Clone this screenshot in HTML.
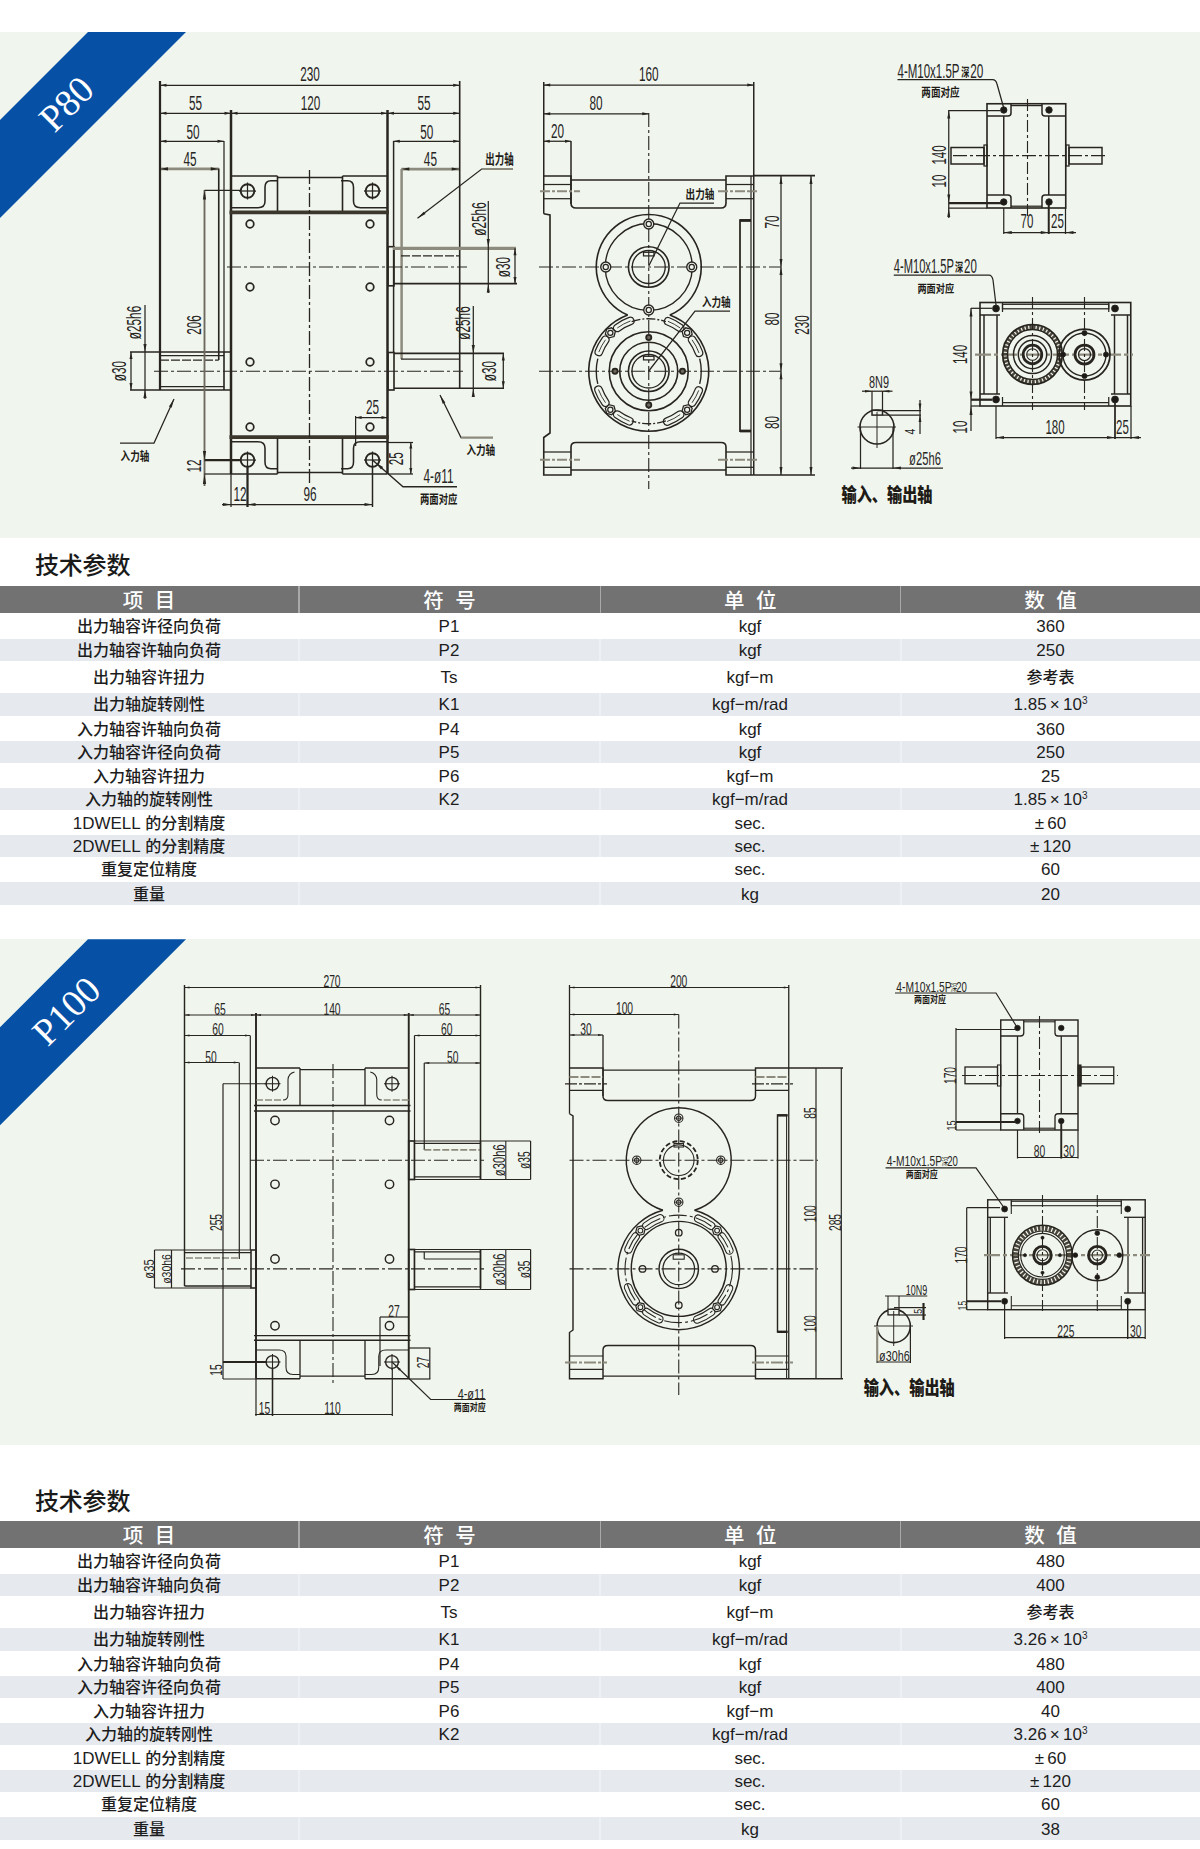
<!DOCTYPE html>
<html lang="zh-CN"><head><meta charset="utf-8"><title>P80 / P100 技术参数</title>
<style>
html,body{margin:0;padding:0;background:#fff}
body{width:1200px;height:1849px;position:relative;overflow:hidden;font-family:"Liberation Sans","Noto Sans CJK SC",sans-serif;color:#1d1d1d}
.panel{position:absolute;left:0;width:1200px;background:#f0f6ee}
svg{position:absolute;left:0;top:0}
.ttl{position:absolute;left:35px;font-size:24px;line-height:28px;font-weight:500;color:#1a1a1a;letter-spacing:-0.2px}
.hdr{position:absolute;left:0;width:1200px;background:#a9a9a9}
.hdr span{position:absolute;top:0;height:100%;background:#727272;color:#fff;font-size:20.5px;line-height:30.5px;text-align:center;font-weight:500;word-spacing:6px}
.row{position:absolute;left:0;width:1200px;font-size:16px;white-space:nowrap}
.row.sh{background:linear-gradient(#edf0f4,#edf0f4) 297.5px 0/2px 100% no-repeat,linear-gradient(#edf0f4,#edf0f4) 599px 0/2px 100% no-repeat,linear-gradient(#edf0f4,#edf0f4) 899.5px 0/2px 100% no-repeat,#e6eaef}
.row span{position:absolute;top:1px;text-align:center;font-weight:500}
.row .c1{left:0;width:298px}
.row .c2{left:299px;width:300px;font-size:17px;font-weight:400}
.row .c3{left:600px;width:300px;font-size:17px;font-weight:400}
.row .c4{left:901px;width:299px;font-size:17px;font-weight:400}
.row .c4{word-spacing:-1.5px}
.row b{font-size:16px;font-weight:500}
.row i{font-style:normal;font-size:17px;font-weight:400}
.row sup{font-size:10px;vertical-align:6px;line-height:0}
</style></head><body>
<div class="panel" style="top:32px;height:506px"></div>
<div class="panel" style="top:939px;height:506px"></div>
<svg width="1200" height="1849" viewBox="0 0 1200 1849">
<polygon points="88,32 186,32 0,218 0,120" fill="#0650a6"/>
<text transform="translate(66.5,104) rotate(-45)" text-anchor="middle" font-family="&quot;Liberation Serif&quot;,serif" font-size="38" fill="#fff" y="12.5">P80</text>
<polygon points="88,939.3 186,939.3 0,1125.3 0,1027.3" fill="#0650a6"/>
<text transform="translate(66.5,1011) rotate(-45)" text-anchor="middle" font-family="&quot;Liberation Serif&quot;,serif" font-size="38" fill="#fff" y="12.5">P100</text>
<g>
<line x1="160.00" y1="85.30" x2="459.70" y2="85.30" stroke="#28251f" stroke-width="1.25"/>
<polygon points="160.00,85.30 166.50,83.80 166.50,86.80" fill="#28251f"/>
<polygon points="459.70,85.30 453.20,86.80 453.20,83.80" fill="#28251f"/>
<line x1="160.00" y1="113.30" x2="231.00" y2="113.30" stroke="#28251f" stroke-width="1.25"/>
<polygon points="160.00,113.30 166.50,111.80 166.50,114.80" fill="#28251f"/>
<polygon points="231.00,113.30 224.50,114.80 224.50,111.80" fill="#28251f"/>
<line x1="231.00" y1="113.30" x2="387.50" y2="113.30" stroke="#28251f" stroke-width="1.25"/>
<polygon points="231.00,113.30 237.50,111.80 237.50,114.80" fill="#28251f"/>
<polygon points="387.50,113.30 381.00,114.80 381.00,111.80" fill="#28251f"/>
<line x1="387.50" y1="113.30" x2="459.70" y2="113.30" stroke="#28251f" stroke-width="1.25"/>
<polygon points="387.50,113.30 394.00,111.80 394.00,114.80" fill="#28251f"/>
<polygon points="459.70,113.30 453.20,114.80 453.20,111.80" fill="#28251f"/>
<line x1="160.00" y1="141.30" x2="224.00" y2="141.30" stroke="#28251f" stroke-width="1.25"/>
<polygon points="160.00,141.30 166.50,139.80 166.50,142.80" fill="#28251f"/>
<polygon points="224.00,141.30 217.50,142.80 217.50,139.80" fill="#28251f"/>
<line x1="160.00" y1="168.90" x2="218.75" y2="168.90" stroke="#8d8a7e" stroke-width="2.75"/>
<polygon points="160.00,168.90 168.00,167.30 168.00,170.50" fill="#28251f"/>
<polygon points="218.75,168.90 210.75,170.50 210.75,167.30" fill="#28251f"/>
<line x1="393.30" y1="141.30" x2="459.70" y2="141.30" stroke="#28251f" stroke-width="1.25"/>
<polygon points="393.30,141.30 399.80,139.80 399.80,142.80" fill="#28251f"/>
<polygon points="459.70,141.30 453.20,142.80 453.20,139.80" fill="#28251f"/>
<line x1="401.30" y1="169.00" x2="459.70" y2="169.00" stroke="#8d8a7e" stroke-width="2.75"/>
<polygon points="401.30,169.00 409.30,167.40 409.30,170.60" fill="#28251f"/>
<polygon points="459.70,169.00 451.70,170.60 451.70,167.40" fill="#28251f"/>
<text transform="translate(310.00,81.00) scale(0.575,1)" font-family="&quot;Liberation Sans&quot;,sans-serif" font-size="20.5" font-weight="normal" fill="#28251f" text-anchor="middle">230</text>
<text transform="translate(195.60,110.00) scale(0.575,1)" font-family="&quot;Liberation Sans&quot;,sans-serif" font-size="20.5" font-weight="normal" fill="#28251f" text-anchor="middle">55</text>
<text transform="translate(310.60,110.00) scale(0.575,1)" font-family="&quot;Liberation Sans&quot;,sans-serif" font-size="20.5" font-weight="normal" fill="#28251f" text-anchor="middle">120</text>
<text transform="translate(424.00,110.00) scale(0.575,1)" font-family="&quot;Liberation Sans&quot;,sans-serif" font-size="20.5" font-weight="normal" fill="#28251f" text-anchor="middle">55</text>
<text transform="translate(193.00,138.50) scale(0.575,1)" font-family="&quot;Liberation Sans&quot;,sans-serif" font-size="20.5" font-weight="normal" fill="#28251f" text-anchor="middle">50</text>
<text transform="translate(426.70,138.50) scale(0.575,1)" font-family="&quot;Liberation Sans&quot;,sans-serif" font-size="20.5" font-weight="normal" fill="#28251f" text-anchor="middle">50</text>
<text transform="translate(190.00,166.00) scale(0.575,1)" font-family="&quot;Liberation Sans&quot;,sans-serif" font-size="20.5" font-weight="normal" fill="#28251f" text-anchor="middle">45</text>
<text transform="translate(430.40,166.00) scale(0.575,1)" font-family="&quot;Liberation Sans&quot;,sans-serif" font-size="20.5" font-weight="normal" fill="#28251f" text-anchor="middle">45</text>
<line x1="160.00" y1="81.00" x2="160.00" y2="390.00" stroke="#28251f" stroke-width="2.25"/>
<line x1="459.70" y1="81.00" x2="459.70" y2="388.00" stroke="#28251f" stroke-width="1.62"/>
<line x1="224.00" y1="141.00" x2="224.00" y2="352.00" stroke="#28251f" stroke-width="1.25"/>
<line x1="218.75" y1="168.50" x2="218.75" y2="360.00" stroke="#28251f" stroke-width="1.62"/>
<line x1="393.60" y1="141.00" x2="393.60" y2="352.50" stroke="#28251f" stroke-width="1.50"/>
<line x1="401.60" y1="169.00" x2="401.60" y2="359.00" stroke="#8d8a7e" stroke-width="2.50"/>
<line x1="231.00" y1="110.00" x2="231.00" y2="474.00" stroke="#28251f" stroke-width="2.50"/>
<line x1="387.50" y1="110.00" x2="387.50" y2="474.00" stroke="#28251f" stroke-width="2.50"/>
<line x1="231.00" y1="176.00" x2="277.50" y2="176.00" stroke="#28251f" stroke-width="1.62"/>
<line x1="342.50" y1="176.00" x2="387.50" y2="176.00" stroke="#28251f" stroke-width="1.62"/>
<line x1="277.50" y1="177.60" x2="342.50" y2="177.60" stroke="#28251f" stroke-width="1.50"/>
<line x1="277.50" y1="176.00" x2="277.50" y2="212.00" stroke="#28251f" stroke-width="1.62"/>
<line x1="342.50" y1="176.00" x2="342.50" y2="212.00" stroke="#28251f" stroke-width="1.62"/>
<line x1="229.50" y1="212.30" x2="389.00" y2="212.30" stroke="#3b372d" stroke-width="3.75"/>
<line x1="229.50" y1="437.20" x2="389.00" y2="437.20" stroke="#3b372d" stroke-width="3.75"/>
<line x1="231.00" y1="474.00" x2="277.50" y2="474.00" stroke="#28251f" stroke-width="1.62"/>
<line x1="342.50" y1="474.00" x2="387.50" y2="474.00" stroke="#28251f" stroke-width="1.62"/>
<line x1="277.50" y1="472.40" x2="342.50" y2="472.40" stroke="#28251f" stroke-width="1.50"/>
<line x1="277.50" y1="438.00" x2="277.50" y2="474.00" stroke="#28251f" stroke-width="1.62"/>
<line x1="342.50" y1="438.00" x2="342.50" y2="474.00" stroke="#28251f" stroke-width="1.62"/>
<path d="M231.00,207.80 L258.00,207.80 Q265.00,207.80 265.00,201.30 L265.00,187.30 Q265.00,180.80 271.00,180.80 L277.50,180.80" stroke="#28251f" stroke-width="1.56" fill="none"/>
<path d="M387.50,207.80 L360.50,207.80 Q353.50,207.80 353.50,201.30 L353.50,187.30 Q353.50,180.80 347.50,180.80 L341.00,180.80" stroke="#28251f" stroke-width="1.56" fill="none"/>
<path d="M231.00,441.80 L258.00,441.80 Q265.00,441.80 265.00,448.30 L265.00,462.30 Q265.00,468.80 271.00,468.80 L277.50,468.80" stroke="#28251f" stroke-width="1.56" fill="none"/>
<path d="M387.50,441.80 L360.50,441.80 Q353.50,441.80 353.50,448.30 L353.50,462.30 Q353.50,468.80 347.50,468.80 L341.00,468.80" stroke="#28251f" stroke-width="1.56" fill="none"/>
<circle cx="247.50" cy="191.00" r="6.80" stroke="#28251f" stroke-width="1.88" fill="none"/>
<line x1="239.00" y1="191.00" x2="256.00" y2="191.00" stroke="#28251f" stroke-width="1.25"/>
<line x1="247.50" y1="182.50" x2="247.50" y2="199.50" stroke="#28251f" stroke-width="1.25"/>
<circle cx="372.50" cy="191.00" r="6.80" stroke="#28251f" stroke-width="1.88" fill="none"/>
<line x1="364.00" y1="191.00" x2="381.00" y2="191.00" stroke="#28251f" stroke-width="1.25"/>
<line x1="372.50" y1="182.50" x2="372.50" y2="199.50" stroke="#28251f" stroke-width="1.25"/>
<circle cx="247.50" cy="460.00" r="6.80" stroke="#28251f" stroke-width="1.88" fill="none"/>
<line x1="239.00" y1="460.00" x2="256.00" y2="460.00" stroke="#28251f" stroke-width="1.25"/>
<line x1="247.50" y1="451.50" x2="247.50" y2="468.50" stroke="#28251f" stroke-width="1.25"/>
<circle cx="372.50" cy="460.00" r="6.80" stroke="#28251f" stroke-width="1.88" fill="none"/>
<line x1="364.00" y1="460.00" x2="381.00" y2="460.00" stroke="#28251f" stroke-width="1.25"/>
<line x1="372.50" y1="451.50" x2="372.50" y2="468.50" stroke="#28251f" stroke-width="1.25"/>
<circle cx="250.00" cy="224.00" r="3.80" stroke="#28251f" stroke-width="1.75" fill="none"/>
<circle cx="250.00" cy="287.00" r="3.80" stroke="#28251f" stroke-width="1.75" fill="none"/>
<circle cx="250.00" cy="362.00" r="3.80" stroke="#28251f" stroke-width="1.75" fill="none"/>
<circle cx="250.00" cy="427.00" r="3.80" stroke="#28251f" stroke-width="1.75" fill="none"/>
<circle cx="370.00" cy="224.00" r="3.80" stroke="#28251f" stroke-width="1.75" fill="none"/>
<circle cx="370.00" cy="287.00" r="3.80" stroke="#28251f" stroke-width="1.75" fill="none"/>
<circle cx="370.00" cy="362.00" r="3.80" stroke="#28251f" stroke-width="1.75" fill="none"/>
<circle cx="370.00" cy="427.00" r="3.80" stroke="#28251f" stroke-width="1.75" fill="none"/>
<line x1="309.50" y1="170.00" x2="309.50" y2="483.00" stroke="#28251f" stroke-width="1.31" stroke-dasharray="14 3 3 3"/>
<line x1="227.00" y1="267.00" x2="467.00" y2="267.00" stroke="#28251f" stroke-width="1.12" stroke-dasharray="14 3 3 3"/>
<line x1="154.00" y1="371.20" x2="463.00" y2="371.20" stroke="#28251f" stroke-width="1.12" stroke-dasharray="14 3 3 3"/>
<line x1="130.00" y1="352.00" x2="231.00" y2="352.00" stroke="#28251f" stroke-width="1.50"/>
<line x1="130.00" y1="390.00" x2="231.00" y2="390.00" stroke="#28251f" stroke-width="1.50"/>
<line x1="160.00" y1="355.60" x2="224.00" y2="355.60" stroke="#28251f" stroke-width="1.25"/>
<line x1="160.00" y1="386.60" x2="224.00" y2="386.60" stroke="#28251f" stroke-width="1.25"/>
<line x1="160.00" y1="360.00" x2="218.75" y2="360.00" stroke="#28251f" stroke-width="1.25" stroke-dasharray="9 2"/>
<line x1="224.00" y1="352.00" x2="224.00" y2="390.00" stroke="#28251f" stroke-width="1.62"/>
<line x1="131.00" y1="352.00" x2="131.00" y2="390.00" stroke="#28251f" stroke-width="1.25"/>
<polygon points="131.00,352.00 132.50,359.00 129.50,359.00" fill="#28251f"/>
<polygon points="131.00,390.00 129.50,383.00 132.50,383.00" fill="#28251f"/>
<line x1="145.00" y1="305.00" x2="145.00" y2="399.00" stroke="#28251f" stroke-width="1.25"/>
<polygon points="145.00,352.00 143.40,344.00 146.60,344.00" fill="#28251f"/>
<polygon points="145.00,390.00 146.60,398.00 143.40,398.00" fill="#28251f"/>
<text transform="translate(141.00,322.50) rotate(-90) scale(0.575,1)" font-family="&quot;Liberation Sans&quot;,sans-serif" font-size="20.5" font-weight="normal" fill="#28251f" text-anchor="middle">ø25h6</text>
<text transform="translate(126.00,371.00) rotate(-90) scale(0.575,1)" font-family="&quot;Liberation Sans&quot;,sans-serif" font-size="20.5" font-weight="normal" fill="#28251f" text-anchor="middle">ø30</text>
<line x1="204.50" y1="190.00" x2="204.50" y2="486.00" stroke="#6d695e" stroke-width="1.88"/>
<polygon points="204.50,190.50 206.10,199.50 202.90,199.50" fill="#28251f"/>
<polygon points="204.50,460.00 202.90,451.00 206.10,451.00" fill="#28251f"/>
<polygon points="204.50,474.00 206.10,484.00 202.90,484.00" fill="#28251f"/>
<line x1="204.50" y1="190.30" x2="241.00" y2="190.30" stroke="#28251f" stroke-width="1.25"/>
<line x1="204.50" y1="460.00" x2="241.00" y2="460.00" stroke="#28251f" stroke-width="2.25"/>
<line x1="204.50" y1="474.00" x2="231.00" y2="474.00" stroke="#28251f" stroke-width="1.25"/>
<text transform="translate(201.00,325.00) rotate(-90) scale(0.575,1)" font-family="&quot;Liberation Sans&quot;,sans-serif" font-size="20.5" font-weight="normal" fill="#28251f" text-anchor="middle">206</text>
<text transform="translate(201.00,466.00) rotate(-90) scale(0.575,1)" font-family="&quot;Liberation Sans&quot;,sans-serif" font-size="20.5" font-weight="normal" fill="#28251f" text-anchor="middle">12</text>
<line x1="222.00" y1="504.50" x2="372.50" y2="504.50" stroke="#28251f" stroke-width="1.25"/>
<polygon points="231.00,504.50 223.00,506.00 223.00,503.00" fill="#28251f"/>
<polygon points="247.50,504.50 255.50,503.00 255.50,506.00" fill="#28251f"/>
<polygon points="372.50,504.50 364.50,506.00 364.50,503.00" fill="#28251f"/>
<line x1="231.00" y1="474.00" x2="231.00" y2="507.00" stroke="#28251f" stroke-width="1.25"/>
<line x1="247.50" y1="467.00" x2="247.50" y2="507.00" stroke="#28251f" stroke-width="2.25"/>
<line x1="372.50" y1="467.00" x2="372.50" y2="507.00" stroke="#28251f" stroke-width="1.50"/>
<text transform="translate(240.00,501.00) scale(0.575,1)" font-family="&quot;Liberation Sans&quot;,sans-serif" font-size="20.5" font-weight="normal" fill="#28251f" text-anchor="middle">12</text>
<text transform="translate(310.00,501.00) scale(0.575,1)" font-family="&quot;Liberation Sans&quot;,sans-serif" font-size="20.5" font-weight="normal" fill="#28251f" text-anchor="middle">96</text>
<line x1="355.60" y1="417.50" x2="387.50" y2="417.50" stroke="#28251f" stroke-width="1.25"/>
<polygon points="355.60,417.50 361.60,416.00 361.60,419.00" fill="#28251f"/>
<polygon points="387.50,417.50 381.50,419.00 381.50,416.00" fill="#28251f"/>
<line x1="355.60" y1="416.00" x2="355.60" y2="446.00" stroke="#28251f" stroke-width="1.25"/>
<text transform="translate(372.50,414.00) scale(0.575,1)" font-family="&quot;Liberation Sans&quot;,sans-serif" font-size="20.5" font-weight="normal" fill="#28251f" text-anchor="middle">25</text>
<line x1="388.00" y1="442.50" x2="413.00" y2="442.50" stroke="#28251f" stroke-width="1.25"/>
<line x1="388.00" y1="474.00" x2="413.00" y2="474.00" stroke="#28251f" stroke-width="1.25"/>
<line x1="410.80" y1="442.50" x2="410.80" y2="474.00" stroke="#28251f" stroke-width="1.25"/>
<polygon points="410.80,442.50 412.30,448.50 409.30,448.50" fill="#28251f"/>
<polygon points="410.80,474.00 409.30,468.00 412.30,468.00" fill="#28251f"/>
<text transform="translate(403.30,458.70) rotate(-90) scale(0.575,1)" font-family="&quot;Liberation Sans&quot;,sans-serif" font-size="20.5" font-weight="normal" fill="#28251f" text-anchor="middle">25</text>
<path d="M372.5,460 L403,486.7 L457,486.7" stroke="#28251f" stroke-width="1.38" fill="none"/>
<polygon points="376.00,463.00 383.09,467.04 380.99,469.46" fill="#28251f"/>
<text transform="translate(438.50,483.30) scale(0.575,1)" font-family="&quot;Liberation Sans&quot;,sans-serif" font-size="20.5" font-weight="normal" fill="#28251f" text-anchor="middle">4-ø11</text>
<text transform="translate(438.70,503.50) scale(0.75,1)" font-family="&quot;Liberation Sans&quot;,&quot;Noto Sans CJK SC&quot;,sans-serif" font-size="12.5" font-weight="bold" fill="#1f1c18" text-anchor="middle">两面对应</text>
<rect x="388.00" y="246.70" width="6.00" height="39.10" rx="0" stroke="#28251f" stroke-width="1.62" fill="none"/>
<line x1="393.00" y1="248.30" x2="516.00" y2="248.30" stroke="#8d8a7e" stroke-width="3.25"/>
<line x1="394.00" y1="283.60" x2="517.00" y2="283.60" stroke="#28251f" stroke-width="1.62"/>
<line x1="401.00" y1="255.80" x2="459.70" y2="255.80" stroke="#28251f" stroke-width="1.25" stroke-dasharray="9 2"/>
<line x1="488.30" y1="201.00" x2="488.30" y2="293.00" stroke="#28251f" stroke-width="1.25"/>
<polygon points="488.30,247.00 486.70,239.00 489.90,239.00" fill="#28251f"/>
<polygon points="488.30,284.50 489.90,292.50 486.70,292.50" fill="#28251f"/>
<line x1="515.00" y1="248.30" x2="515.00" y2="284.00" stroke="#28251f" stroke-width="1.25"/>
<polygon points="515.00,248.30 516.50,255.30 513.50,255.30" fill="#28251f"/>
<polygon points="515.00,284.00 513.50,277.00 516.50,277.00" fill="#28251f"/>
<text transform="translate(486.00,219.00) rotate(-90) scale(0.575,1)" font-family="&quot;Liberation Sans&quot;,sans-serif" font-size="20.5" font-weight="normal" fill="#28251f" text-anchor="middle">ø25h6</text>
<text transform="translate(509.80,267.00) rotate(-90) scale(0.575,1)" font-family="&quot;Liberation Sans&quot;,sans-serif" font-size="20.5" font-weight="normal" fill="#28251f" text-anchor="middle">ø30</text>
<rect x="388.00" y="352.50" width="6.00" height="37.50" rx="0" stroke="#28251f" stroke-width="1.62" fill="none"/>
<line x1="394.00" y1="353.40" x2="504.00" y2="353.40" stroke="#28251f" stroke-width="1.62"/>
<line x1="394.00" y1="388.20" x2="504.00" y2="388.20" stroke="#28251f" stroke-width="1.62"/>
<line x1="401.00" y1="359.20" x2="459.70" y2="359.20" stroke="#28251f" stroke-width="1.25"/>
<line x1="473.30" y1="306.00" x2="473.30" y2="397.00" stroke="#28251f" stroke-width="1.25"/>
<polygon points="473.30,353.00 471.70,345.00 474.90,345.00" fill="#28251f"/>
<polygon points="473.30,389.00 474.90,397.00 471.70,397.00" fill="#28251f"/>
<line x1="503.30" y1="353.40" x2="503.30" y2="388.20" stroke="#28251f" stroke-width="1.25"/>
<polygon points="503.30,353.40 504.80,360.40 501.80,360.40" fill="#28251f"/>
<polygon points="503.30,388.20 501.80,381.20 504.80,381.20" fill="#28251f"/>
<text transform="translate(470.00,323.00) rotate(-90) scale(0.575,1)" font-family="&quot;Liberation Sans&quot;,sans-serif" font-size="20.5" font-weight="normal" fill="#28251f" text-anchor="middle">ø25h6</text>
<text transform="translate(496.30,371.00) rotate(-90) scale(0.575,1)" font-family="&quot;Liberation Sans&quot;,sans-serif" font-size="20.5" font-weight="normal" fill="#28251f" text-anchor="middle">ø30</text>
<path d="M513,169 L481.7,169 L417.5,218.3" stroke="#28251f" stroke-width="1.25" fill="none"/>
<line x1="481.70" y1="169.00" x2="513.00" y2="169.00" stroke="#8d8a7e" stroke-width="2.00"/>
<polygon points="417.50,218.30 423.73,211.63 425.55,214.01" fill="#28251f"/>
<text transform="translate(499.50,163.50) scale(0.7,1)" font-family="&quot;Liberation Sans&quot;,&quot;Noto Sans CJK SC&quot;,sans-serif" font-size="13.5" font-weight="bold" fill="#1f1c18" text-anchor="middle">出力轴</text>
<path d="M120,443 L154,443 L174,399" stroke="#28251f" stroke-width="1.25" fill="none"/>
<polygon points="174.00,399.00 171.63,407.81 168.90,406.57" fill="#28251f"/>
<text transform="translate(135.00,460.50) scale(0.8,1)" font-family="&quot;Liberation Sans&quot;,&quot;Noto Sans CJK SC&quot;,sans-serif" font-size="12" font-weight="bold" fill="#1f1c18" text-anchor="middle">入力轴</text>
<path d="M493,437.5 L461,437.5 L440,395" stroke="#28251f" stroke-width="1.25" fill="none"/>
<line x1="461.00" y1="437.50" x2="493.00" y2="437.50" stroke="#8d8a7e" stroke-width="2.00"/>
<polygon points="440.00,395.00 445.33,402.40 442.64,403.73" fill="#28251f"/>
<text transform="translate(480.80,454.50) scale(0.8,1)" font-family="&quot;Liberation Sans&quot;,&quot;Noto Sans CJK SC&quot;,sans-serif" font-size="12" font-weight="bold" fill="#1f1c18" text-anchor="middle">入力轴</text>
<line x1="543.75" y1="85.00" x2="753.75" y2="85.00" stroke="#28251f" stroke-width="1.25"/>
<polygon points="543.75,85.00 550.25,83.50 550.25,86.50" fill="#28251f"/>
<polygon points="753.75,85.00 747.25,86.50 747.25,83.50" fill="#28251f"/>
<line x1="543.75" y1="113.75" x2="648.75" y2="113.75" stroke="#28251f" stroke-width="1.25"/>
<polygon points="543.75,113.75 550.25,112.25 550.25,115.25" fill="#28251f"/>
<polygon points="648.75,113.75 642.25,115.25 642.25,112.25" fill="#28251f"/>
<line x1="543.75" y1="141.25" x2="571.00" y2="141.25" stroke="#28251f" stroke-width="1.25"/>
<polygon points="543.75,141.25 549.75,139.75 549.75,142.75" fill="#28251f"/>
<polygon points="571.00,141.25 565.00,142.75 565.00,139.75" fill="#28251f"/>
<text transform="translate(648.75,81.00) scale(0.575,1)" font-family="&quot;Liberation Sans&quot;,sans-serif" font-size="20.5" font-weight="normal" fill="#28251f" text-anchor="middle">160</text>
<text transform="translate(596.00,110.00) scale(0.575,1)" font-family="&quot;Liberation Sans&quot;,sans-serif" font-size="20.5" font-weight="normal" fill="#28251f" text-anchor="middle">80</text>
<text transform="translate(557.50,138.00) scale(0.575,1)" font-family="&quot;Liberation Sans&quot;,sans-serif" font-size="20.5" font-weight="normal" fill="#28251f" text-anchor="middle">20</text>
<line x1="543.75" y1="82.00" x2="543.75" y2="213.75" stroke="#28251f" stroke-width="1.50"/>
<line x1="753.75" y1="82.00" x2="753.75" y2="475.00" stroke="#28251f" stroke-width="1.50"/>
<line x1="571.00" y1="141.00" x2="571.00" y2="204.00" stroke="#28251f" stroke-width="1.50"/>
<line x1="648.75" y1="113.00" x2="648.75" y2="489.00" stroke="#28251f" stroke-width="1.12" stroke-dasharray="14 3 3 3"/>
<path d="M543.75,176 L571,176 L571,203 Q571,208 576,208 L721,208 Q726,208 726,203 L726,176 L753.75,176" stroke="#28251f" stroke-width="1.62" fill="none"/>
<line x1="571.00" y1="180.00" x2="726.00" y2="180.00" stroke="#28251f" stroke-width="1.50"/>
<path d="M543.75,213.75 L550,215 L550,433 L543.75,437.5 L543.75,475 L571,475 L571,447 Q571,442.5 576,442.5 L721,442.5 Q726,442.5 726,447 L726,475 L753.75,475" stroke="#28251f" stroke-width="1.62" fill="none"/>
<line x1="571.00" y1="470.00" x2="726.00" y2="470.00" stroke="#28251f" stroke-width="1.62"/>
<line x1="543.75" y1="184.50" x2="571.00" y2="184.50" stroke="#28251f" stroke-width="1.25"/>
<line x1="543.75" y1="198.70" x2="571.00" y2="198.70" stroke="#28251f" stroke-width="1.25"/>
<line x1="543.75" y1="452.00" x2="571.00" y2="452.00" stroke="#28251f" stroke-width="1.25"/>
<line x1="543.75" y1="467.30" x2="571.00" y2="467.30" stroke="#28251f" stroke-width="1.25"/>
<line x1="726.00" y1="184.50" x2="753.75" y2="184.50" stroke="#28251f" stroke-width="1.25"/>
<line x1="726.00" y1="198.70" x2="753.75" y2="198.70" stroke="#28251f" stroke-width="1.25"/>
<line x1="726.00" y1="452.00" x2="753.75" y2="452.00" stroke="#28251f" stroke-width="1.25"/>
<line x1="726.00" y1="467.30" x2="753.75" y2="467.30" stroke="#28251f" stroke-width="1.25"/>
<line x1="540.00" y1="191.30" x2="580.00" y2="191.30" stroke="#8d8a7e" stroke-width="2.00" stroke-dasharray="10 2 3 2"/>
<line x1="718.00" y1="191.30" x2="757.00" y2="191.30" stroke="#8d8a7e" stroke-width="2.00" stroke-dasharray="10 2 3 2"/>
<line x1="540.00" y1="459.70" x2="580.00" y2="459.70" stroke="#8d8a7e" stroke-width="2.00" stroke-dasharray="10 2 3 2"/>
<line x1="718.00" y1="459.70" x2="757.00" y2="459.70" stroke="#8d8a7e" stroke-width="2.00" stroke-dasharray="10 2 3 2"/>
<path d="M751,220 L740,220 L740,431 L751,431" stroke="#28251f" stroke-width="1.75" fill="none"/>
<line x1="751.00" y1="176.00" x2="751.00" y2="475.00" stroke="#28251f" stroke-width="1.25"/>
<line x1="740.00" y1="220.50" x2="751.00" y2="220.50" stroke="#28251f" stroke-width="2.75"/>
<line x1="740.00" y1="431.00" x2="751.00" y2="431.00" stroke="#28251f" stroke-width="2.75"/>
<line x1="539.00" y1="267.00" x2="781.00" y2="267.00" stroke="#28251f" stroke-width="1.12" stroke-dasharray="14 3 3 3"/>
<line x1="539.00" y1="371.25" x2="781.00" y2="371.25" stroke="#28251f" stroke-width="1.12" stroke-dasharray="14 3 3 3"/>
<path d="M627.67,315.08 A52.5,52.5 0 1 1 669.83,315.08" stroke="#28251f" stroke-width="1.62" fill="none"/>
<path d="M669.83,315.08 A60,60 0 1 1 627.67,315.08" stroke="#28251f" stroke-width="1.62" fill="none"/>
<circle cx="648.75" cy="267.00" r="43.50" stroke="#28251f" stroke-width="1.38" fill="none"/>
<circle cx="648.75" cy="224.00" r="5.00" stroke="#28251f" stroke-width="1.38" fill="#f0f6ee"/>
<circle cx="648.75" cy="224.00" r="2.60" stroke="#28251f" stroke-width="1.25" fill="none"/>
<circle cx="605.75" cy="267.00" r="5.00" stroke="#28251f" stroke-width="1.38" fill="#f0f6ee"/>
<circle cx="605.75" cy="267.00" r="2.60" stroke="#28251f" stroke-width="1.25" fill="none"/>
<circle cx="691.75" cy="267.00" r="5.00" stroke="#28251f" stroke-width="1.38" fill="#f0f6ee"/>
<circle cx="691.75" cy="267.00" r="2.60" stroke="#28251f" stroke-width="1.25" fill="none"/>
<circle cx="648.75" cy="310.00" r="5.00" stroke="#28251f" stroke-width="1.38" fill="#f0f6ee"/>
<circle cx="648.75" cy="310.00" r="2.60" stroke="#28251f" stroke-width="1.25" fill="none"/>
<circle cx="648.75" cy="267.00" r="20.30" stroke="#28251f" stroke-width="1.62" fill="none"/>
<circle cx="648.75" cy="267.00" r="16.50" stroke="#28251f" stroke-width="1.38" fill="none"/>
<rect x="643.50" y="252.30" width="10.50" height="3.60" rx="0" stroke="#28251f" stroke-width="1.25" fill="none"/>
<path d="M699.69,358.55 A52.5,52.5 0 0 1 699.69,383.95" stroke="#28251f" stroke-width="1.38" fill="none"/>
<path d="M597.81,383.95 A52.5,52.5 0 0 1 597.81,358.55" stroke="#28251f" stroke-width="1.38" fill="none"/>
<path d="M665.84,420.89 A52.5,52.5 0 0 1 631.66,420.89" stroke="#28251f" stroke-width="1.38" fill="none" stroke-dasharray="9 2 2 2"/>
<path d="M631.66,321.61 A52.5,52.5 0 0 1 665.84,321.61" stroke="#28251f" stroke-width="1.38" fill="none" stroke-dasharray="9 2 2 2"/>
<circle cx="648.75" cy="371.25" r="39.50" stroke="#28251f" stroke-width="1.62" fill="none"/>
<circle cx="648.75" cy="371.25" r="29.00" stroke="#28251f" stroke-width="1.62" fill="none"/>
<circle cx="648.75" cy="371.25" r="20.30" stroke="#28251f" stroke-width="1.62" fill="none"/>
<circle cx="648.75" cy="371.25" r="16.80" stroke="#28251f" stroke-width="1.38" fill="none"/>
<rect x="643.50" y="356.30" width="10.50" height="3.60" rx="0" stroke="#28251f" stroke-width="1.25" fill="none"/>
<circle cx="648.75" cy="337.50" r="2.60" stroke="#28251f" stroke-width="1.75" fill="#6b675c"/>
<circle cx="615.00" cy="371.25" r="2.60" stroke="#28251f" stroke-width="1.75" fill="#6b675c"/>
<circle cx="682.50" cy="371.25" r="2.60" stroke="#28251f" stroke-width="1.75" fill="#6b675c"/>
<circle cx="648.75" cy="405.00" r="2.60" stroke="#28251f" stroke-width="1.75" fill="#6b675c"/>
<path d="M702.24,391.78 A57.3,57.3 0 0 1 695.11,404.93 A3.75,3.75 0 0 1 689.04,400.52 A49.8,49.8 0 0 0 695.24,389.10 A3.75,3.75 0 0 1 702.24,391.78 Z" stroke="#28251f" stroke-width="1.25" fill="none"/>
<path d="M682.43,417.61 A57.3,57.3 0 0 1 668.35,425.09 A3.75,3.75 0 0 1 665.78,418.05 A49.8,49.8 0 0 0 678.02,411.54 A3.75,3.75 0 0 1 682.43,417.61 Z" stroke="#28251f" stroke-width="1.25" fill="none"/>
<path d="M698.70,390.42 A53.5,53.5 0 0 1 692.03,402.70" stroke="#28251f" stroke-width="0.88" fill="none"/>
<path d="M680.20,414.53 A53.5,53.5 0 0 1 667.05,421.52" stroke="#28251f" stroke-width="0.88" fill="none"/>
<path d="M628.22,424.74 A57.3,57.3 0 0 1 615.07,417.61 A3.75,3.75 0 0 1 619.48,411.54 A49.8,49.8 0 0 0 630.90,417.74 A3.75,3.75 0 0 1 628.22,424.74 Z" stroke="#28251f" stroke-width="1.25" fill="none"/>
<path d="M602.39,404.93 A57.3,57.3 0 0 1 594.91,390.85 A3.75,3.75 0 0 1 601.95,388.28 A49.8,49.8 0 0 0 608.46,400.52 A3.75,3.75 0 0 1 602.39,404.93 Z" stroke="#28251f" stroke-width="1.25" fill="none"/>
<path d="M629.58,421.20 A53.5,53.5 0 0 1 617.30,414.53" stroke="#28251f" stroke-width="0.88" fill="none"/>
<path d="M605.47,402.70 A53.5,53.5 0 0 1 598.48,389.55" stroke="#28251f" stroke-width="0.88" fill="none"/>
<path d="M595.26,350.72 A57.3,57.3 0 0 1 602.39,337.57 A3.75,3.75 0 0 1 608.46,341.98 A49.8,49.8 0 0 0 602.26,353.40 A3.75,3.75 0 0 1 595.26,350.72 Z" stroke="#28251f" stroke-width="1.25" fill="none"/>
<path d="M615.07,324.89 A57.3,57.3 0 0 1 629.15,317.41 A3.75,3.75 0 0 1 631.72,324.45 A49.8,49.8 0 0 0 619.48,330.96 A3.75,3.75 0 0 1 615.07,324.89 Z" stroke="#28251f" stroke-width="1.25" fill="none"/>
<path d="M598.80,352.08 A53.5,53.5 0 0 1 605.47,339.80" stroke="#28251f" stroke-width="0.88" fill="none"/>
<path d="M617.30,327.97 A53.5,53.5 0 0 1 630.45,320.98" stroke="#28251f" stroke-width="0.88" fill="none"/>
<path d="M669.28,317.76 A57.3,57.3 0 0 1 682.43,324.89 A3.75,3.75 0 0 1 678.02,330.96 A49.8,49.8 0 0 0 666.60,324.76 A3.75,3.75 0 0 1 669.28,317.76 Z" stroke="#28251f" stroke-width="1.25" fill="none"/>
<path d="M695.11,337.57 A57.3,57.3 0 0 1 702.59,351.65 A3.75,3.75 0 0 1 695.55,354.22 A49.8,49.8 0 0 0 689.04,341.98 A3.75,3.75 0 0 1 695.11,337.57 Z" stroke="#28251f" stroke-width="1.25" fill="none"/>
<path d="M667.92,321.30 A53.5,53.5 0 0 1 680.20,327.97" stroke="#28251f" stroke-width="0.88" fill="none"/>
<path d="M692.03,339.80 A53.5,53.5 0 0 1 699.02,352.95" stroke="#28251f" stroke-width="0.88" fill="none"/>
<polygon points="690.82,413.32 685.80,414.67 682.12,410.99 683.47,405.97 688.49,404.62 692.17,408.30" fill="#f0f6ee" stroke="#28251f" stroke-width="1.3"/>
<circle cx="687.15" cy="409.65" r="2.60" stroke="#28251f" stroke-width="1.25" fill="none"/>
<polygon points="606.68,413.32 605.33,408.30 609.01,404.62 614.03,405.97 615.38,410.99 611.70,414.67" fill="#f0f6ee" stroke="#28251f" stroke-width="1.3"/>
<circle cx="610.35" cy="409.65" r="2.60" stroke="#28251f" stroke-width="1.25" fill="none"/>
<polygon points="606.68,329.18 611.70,327.83 615.38,331.51 614.03,336.53 609.01,337.88 605.33,334.20" fill="#f0f6ee" stroke="#28251f" stroke-width="1.3"/>
<circle cx="610.35" cy="332.85" r="2.60" stroke="#28251f" stroke-width="1.25" fill="none"/>
<polygon points="690.82,329.18 692.17,334.20 688.49,337.88 683.47,336.53 682.12,331.51 685.80,327.83" fill="#f0f6ee" stroke="#28251f" stroke-width="1.3"/>
<circle cx="687.15" cy="332.85" r="2.60" stroke="#28251f" stroke-width="1.25" fill="none"/>
<path d="M714,203 L680,203 L648.75,266" stroke="#28251f" stroke-width="1.25" fill="none"/>
<text transform="translate(700.00,198.50) scale(0.8,1)" font-family="&quot;Liberation Sans&quot;,&quot;Noto Sans CJK SC&quot;,sans-serif" font-size="12" font-weight="bold" fill="#1f1c18" text-anchor="middle">出力轴</text>
<path d="M730,311 L695,311 L648.75,371" stroke="#28251f" stroke-width="1.25" fill="none"/>
<text transform="translate(716.30,306.50) scale(0.8,1)" font-family="&quot;Liberation Sans&quot;,&quot;Noto Sans CJK SC&quot;,sans-serif" font-size="12" font-weight="bold" fill="#1f1c18" text-anchor="middle">入力轴</text>
<line x1="753.75" y1="175.60" x2="815.00" y2="175.60" stroke="#28251f" stroke-width="1.62"/>
<line x1="753.75" y1="475.00" x2="815.00" y2="475.00" stroke="#28251f" stroke-width="1.62"/>
<line x1="781.00" y1="176.00" x2="781.00" y2="475.00" stroke="#28251f" stroke-width="1.25"/>
<line x1="811.00" y1="176.00" x2="811.00" y2="475.00" stroke="#28251f" stroke-width="1.25"/>
<polygon points="781.00,267.00 779.50,259.00 782.50,259.00" fill="#28251f"/>
<polygon points="781.00,267.00 782.50,275.00 779.50,275.00" fill="#28251f"/>
<polygon points="781.00,371.25 779.50,363.25 782.50,363.25" fill="#28251f"/>
<polygon points="781.00,371.25 782.50,379.25 779.50,379.25" fill="#28251f"/>
<polygon points="781.00,176.00 782.50,184.00 779.50,184.00" fill="#28251f"/>
<polygon points="781.00,475.00 779.50,467.00 782.50,467.00" fill="#28251f"/>
<polygon points="811.00,176.00 812.50,184.00 809.50,184.00" fill="#28251f"/>
<polygon points="811.00,475.00 809.50,467.00 812.50,467.00" fill="#28251f"/>
<text transform="translate(778.75,222.00) rotate(-90) scale(0.575,1)" font-family="&quot;Liberation Sans&quot;,sans-serif" font-size="20.5" font-weight="normal" fill="#28251f" text-anchor="middle">70</text>
<text transform="translate(778.75,319.00) rotate(-90) scale(0.575,1)" font-family="&quot;Liberation Sans&quot;,sans-serif" font-size="20.5" font-weight="normal" fill="#28251f" text-anchor="middle">80</text>
<text transform="translate(778.75,422.50) rotate(-90) scale(0.575,1)" font-family="&quot;Liberation Sans&quot;,sans-serif" font-size="20.5" font-weight="normal" fill="#28251f" text-anchor="middle">80</text>
<text transform="translate(808.75,325.00) rotate(-90) scale(0.575,1)" font-family="&quot;Liberation Sans&quot;,sans-serif" font-size="20.5" font-weight="normal" fill="#28251f" text-anchor="middle">230</text>
<text transform="translate(897.50,77.50) scale(0.5757,1)" font-family="&quot;Liberation Sans&quot;,sans-serif" font-size="20" font-weight="normal" fill="#28251f" text-anchor="start">4-M10x1.5P</text>
<text transform="translate(961.30,76.60) scale(0.68,1)" font-family="&quot;Liberation Sans&quot;,&quot;Noto Sans CJK SC&quot;,sans-serif" font-size="12" font-weight="bold" fill="#1f1c18" text-anchor="start">深</text>
<text transform="translate(970.30,77.50) scale(0.59,1)" font-family="&quot;Liberation Sans&quot;,sans-serif" font-size="20" font-weight="normal" fill="#28251f" text-anchor="start">20</text>
<path d="M897.5,79.5 L992.5,79.5 Q996,79.5 997,84 L1003.75,108" stroke="#28251f" stroke-width="1.25" fill="none"/>
<text transform="translate(940.50,97.00) scale(0.8,1)" font-family="&quot;Liberation Sans&quot;,&quot;Noto Sans CJK SC&quot;,sans-serif" font-size="12" font-weight="bold" fill="#1f1c18" text-anchor="middle">两面对应</text>
<rect x="987.00" y="103.75" width="78.75" height="104.25" rx="0" stroke="#28251f" stroke-width="1.62" fill="none"/>
<line x1="1003.75" y1="116.00" x2="1003.75" y2="195.00" stroke="#28251f" stroke-width="1.50"/>
<line x1="1048.75" y1="116.00" x2="1048.75" y2="195.00" stroke="#28251f" stroke-width="1.50"/>
<line x1="1027.50" y1="99.00" x2="1027.50" y2="216.00" stroke="#28251f" stroke-width="1.12" stroke-dasharray="12 3 3 3"/>
<line x1="1011.00" y1="105.60" x2="1042.00" y2="105.60" stroke="#28251f" stroke-width="1.25"/>
<line x1="1011.00" y1="206.20" x2="1042.00" y2="206.20" stroke="#28251f" stroke-width="1.25"/>
<path d="M987,116 L1008,116 Q1011,116 1011,113 L1011,103.75" stroke="#28251f" stroke-width="1.50" fill="none"/>
<path d="M1065.75,116 L1045,116 Q1042,116 1042,113 L1042,103.75" stroke="#28251f" stroke-width="1.50" fill="none"/>
<path d="M987,195 L1008,195 Q1011,195 1011,198 L1011,208" stroke="#28251f" stroke-width="1.50" fill="none"/>
<path d="M1065.75,195 L1045,195 Q1042,195 1042,198 L1042,208" stroke="#28251f" stroke-width="1.50" fill="none"/>
<circle cx="1003.75" cy="110.00" r="3.20" stroke="#28251f" stroke-width="1.00" fill="#1c1a17"/>
<circle cx="1049.00" cy="110.00" r="3.20" stroke="#28251f" stroke-width="1.00" fill="#1c1a17"/>
<circle cx="1003.75" cy="202.00" r="3.20" stroke="#28251f" stroke-width="1.00" fill="#1c1a17"/>
<circle cx="1049.00" cy="202.00" r="3.20" stroke="#28251f" stroke-width="1.00" fill="#1c1a17"/>
<rect x="951.00" y="147.50" width="33.00" height="16.50" rx="0" stroke="#28251f" stroke-width="1.50" fill="none"/>
<rect x="984.00" y="145.00" width="3.00" height="21.00" rx="0" stroke="#28251f" stroke-width="1.25" fill="none"/>
<rect x="1069.00" y="147.50" width="33.00" height="16.50" rx="0" stroke="#28251f" stroke-width="1.50" fill="none"/>
<rect x="1066.00" y="145.00" width="3.00" height="21.00" rx="0" stroke="#28251f" stroke-width="1.25" fill="none"/>
<line x1="953.00" y1="155.60" x2="1106.00" y2="155.60" stroke="#28251f" stroke-width="1.12" stroke-dasharray="14 3 3 3"/>
<line x1="948.75" y1="110.00" x2="948.75" y2="218.00" stroke="#28251f" stroke-width="1.25"/>
<polygon points="948.75,110.50 950.25,118.50 947.25,118.50" fill="#28251f"/>
<polygon points="948.75,202.50 947.25,194.50 950.25,194.50" fill="#28251f"/>
<polygon points="948.75,208.00 950.25,217.00 947.25,217.00" fill="#28251f"/>
<line x1="948.75" y1="110.50" x2="1000.00" y2="110.50" stroke="#28251f" stroke-width="1.25"/>
<line x1="948.75" y1="203.00" x2="1001.00" y2="203.00" stroke="#28251f" stroke-width="2.25"/>
<line x1="948.75" y1="208.00" x2="987.00" y2="208.00" stroke="#28251f" stroke-width="1.25"/>
<text transform="translate(946.00,155.00) rotate(-90) scale(0.575,1)" font-family="&quot;Liberation Sans&quot;,sans-serif" font-size="20" font-weight="normal" fill="#28251f" text-anchor="middle">140</text>
<text transform="translate(946.00,181.00) rotate(-90) scale(0.575,1)" font-family="&quot;Liberation Sans&quot;,sans-serif" font-size="20" font-weight="normal" fill="#28251f" text-anchor="middle">10</text>
<line x1="1003.75" y1="232.50" x2="1076.00" y2="232.50" stroke="#28251f" stroke-width="1.25"/>
<polygon points="1003.75,232.50 1011.75,231.10 1011.75,233.90" fill="#28251f"/>
<polygon points="1048.75,232.50 1040.75,233.90 1040.75,231.10" fill="#28251f"/>
<polygon points="1065.50,232.50 1073.50,231.10 1073.50,233.90" fill="#28251f"/>
<line x1="1003.75" y1="208.00" x2="1003.75" y2="234.00" stroke="#28251f" stroke-width="1.25"/>
<line x1="1048.75" y1="205.00" x2="1048.75" y2="234.00" stroke="#28251f" stroke-width="2.00"/>
<line x1="1065.50" y1="208.00" x2="1065.50" y2="234.00" stroke="#28251f" stroke-width="1.25"/>
<text transform="translate(1027.00,228.00) scale(0.575,1)" font-family="&quot;Liberation Sans&quot;,sans-serif" font-size="20" font-weight="normal" fill="#28251f" text-anchor="middle">70</text>
<text transform="translate(1057.50,228.00) scale(0.575,1)" font-family="&quot;Liberation Sans&quot;,sans-serif" font-size="20" font-weight="normal" fill="#28251f" text-anchor="middle">25</text>
<text transform="translate(893.75,272.50) scale(0.572,1)" font-family="&quot;Liberation Sans&quot;,sans-serif" font-size="19.5" font-weight="normal" fill="#28251f" text-anchor="start">4-M10x1.5P</text>
<text transform="translate(955.00,271.60) scale(0.68,1)" font-family="&quot;Liberation Sans&quot;,&quot;Noto Sans CJK SC&quot;,sans-serif" font-size="12" font-weight="bold" fill="#1f1c18" text-anchor="start">深</text>
<text transform="translate(964.00,272.50) scale(0.59,1)" font-family="&quot;Liberation Sans&quot;,sans-serif" font-size="19.5" font-weight="normal" fill="#28251f" text-anchor="start">20</text>
<path d="M893.75,275 L989,275 Q992,275 993,280 L996,305" stroke="#28251f" stroke-width="1.25" fill="none"/>
<text transform="translate(935.80,292.50) scale(0.8,1)" font-family="&quot;Liberation Sans&quot;,&quot;Noto Sans CJK SC&quot;,sans-serif" font-size="11.5" font-weight="bold" fill="#1f1c18" text-anchor="middle">两面对应</text>
<rect x="980.00" y="302.50" width="150.75" height="103.50" rx="0" stroke="#28251f" stroke-width="1.62" fill="none"/>
<rect x="1002.50" y="304.30" width="106.25" height="4.50" rx="0" stroke="#28251f" stroke-width="1.25" fill="none"/>
<line x1="980.00" y1="315.00" x2="1000.00" y2="315.00" stroke="#28251f" stroke-width="1.50"/>
<line x1="1111.00" y1="315.00" x2="1130.75" y2="315.00" stroke="#28251f" stroke-width="1.50"/>
<line x1="980.00" y1="394.00" x2="1000.00" y2="394.00" stroke="#28251f" stroke-width="1.50"/>
<line x1="1111.00" y1="394.00" x2="1130.75" y2="394.00" stroke="#28251f" stroke-width="1.50"/>
<line x1="1002.50" y1="302.50" x2="1002.50" y2="312.00" stroke="#28251f" stroke-width="1.25"/>
<line x1="1108.75" y1="302.50" x2="1108.75" y2="312.00" stroke="#28251f" stroke-width="1.25"/>
<line x1="1002.50" y1="397.00" x2="1002.50" y2="406.00" stroke="#28251f" stroke-width="1.25"/>
<line x1="1108.75" y1="397.00" x2="1108.75" y2="406.00" stroke="#28251f" stroke-width="1.25"/>
<line x1="1002.50" y1="402.50" x2="1108.75" y2="402.50" stroke="#28251f" stroke-width="1.25"/>
<line x1="984.00" y1="315.00" x2="984.00" y2="394.00" stroke="#28251f" stroke-width="1.50"/>
<line x1="997.00" y1="315.00" x2="997.00" y2="394.00" stroke="#28251f" stroke-width="1.50"/>
<line x1="1114.50" y1="315.00" x2="1114.50" y2="394.00" stroke="#28251f" stroke-width="1.50"/>
<line x1="1127.50" y1="315.00" x2="1127.50" y2="394.00" stroke="#28251f" stroke-width="1.50"/>
<circle cx="996.00" cy="308.50" r="3.40" stroke="#28251f" stroke-width="1.00" fill="#1c1a17"/>
<circle cx="1115.00" cy="308.50" r="3.40" stroke="#28251f" stroke-width="1.00" fill="#1c1a17"/>
<circle cx="996.00" cy="399.50" r="3.40" stroke="#28251f" stroke-width="1.00" fill="#1c1a17"/>
<circle cx="1115.00" cy="399.50" r="3.40" stroke="#28251f" stroke-width="1.00" fill="#1c1a17"/>
<line x1="975.00" y1="354.50" x2="1133.00" y2="354.50" stroke="#8d8a7e" stroke-width="2.25" stroke-dasharray="16 3 4 3"/>
<line x1="1032.50" y1="297.00" x2="1032.50" y2="410.00" stroke="#28251f" stroke-width="1.12" stroke-dasharray="12 3 3 3"/>
<line x1="1084.50" y1="297.00" x2="1084.50" y2="410.00" stroke="#28251f" stroke-width="1.12" stroke-dasharray="12 3 3 3"/>
<circle cx="1032.50" cy="354.50" r="27.40" stroke="#4a463c" stroke-width="4.50" fill="none" stroke-dasharray="2.5 1.2"/>
<circle cx="1032.50" cy="354.50" r="29.80" stroke="#28251f" stroke-width="1.75" fill="none"/>
<circle cx="1032.50" cy="354.50" r="25.00" stroke="#28251f" stroke-width="1.50" fill="none"/>
<circle cx="1032.50" cy="354.50" r="19.00" stroke="#28251f" stroke-width="1.50" fill="none"/>
<circle cx="1032.50" cy="354.50" r="14.20" stroke="#28251f" stroke-width="1.50" fill="none"/>
<circle cx="1032.50" cy="354.50" r="9.30" stroke="#28251f" stroke-width="2.75" fill="none"/>
<circle cx="1032.50" cy="354.50" r="5.80" stroke="#28251f" stroke-width="1.12" fill="none"/>
<circle cx="1084.50" cy="354.50" r="25.50" stroke="#28251f" stroke-width="1.75" fill="none"/>
<circle cx="1084.50" cy="354.50" r="21.50" stroke="#28251f" stroke-width="1.38" fill="none"/>
<circle cx="1084.50" cy="354.50" r="9.50" stroke="#28251f" stroke-width="2.75" fill="none"/>
<circle cx="1084.50" cy="354.50" r="6.00" stroke="#28251f" stroke-width="1.25" fill="none"/>
<circle cx="1084.50" cy="333.00" r="2.60" stroke="#28251f" stroke-width="0.75" fill="#1c1a17"/>
<circle cx="1063.00" cy="354.50" r="2.60" stroke="#28251f" stroke-width="0.75" fill="#1c1a17"/>
<circle cx="1106.00" cy="354.50" r="2.60" stroke="#28251f" stroke-width="0.75" fill="#1c1a17"/>
<circle cx="1084.50" cy="376.00" r="2.60" stroke="#28251f" stroke-width="0.75" fill="#1c1a17"/>
<line x1="971.00" y1="308.00" x2="971.00" y2="431.00" stroke="#28251f" stroke-width="1.25"/>
<polygon points="971.00,308.50 972.50,316.50 969.50,316.50" fill="#28251f"/>
<polygon points="971.00,399.50 969.50,391.50 972.50,391.50" fill="#28251f"/>
<polygon points="971.00,406.00 972.50,415.00 969.50,415.00" fill="#28251f"/>
<line x1="971.00" y1="308.30" x2="992.00" y2="308.30" stroke="#28251f" stroke-width="1.25"/>
<line x1="971.00" y1="399.70" x2="992.00" y2="399.70" stroke="#28251f" stroke-width="2.25"/>
<line x1="971.00" y1="406.00" x2="980.00" y2="406.00" stroke="#28251f" stroke-width="1.25"/>
<text transform="translate(967.00,354.50) rotate(-90) scale(0.575,1)" font-family="&quot;Liberation Sans&quot;,sans-serif" font-size="20" font-weight="normal" fill="#28251f" text-anchor="middle">140</text>
<text transform="translate(967.00,427.00) rotate(-90) scale(0.575,1)" font-family="&quot;Liberation Sans&quot;,sans-serif" font-size="20" font-weight="normal" fill="#28251f" text-anchor="middle">10</text>
<line x1="996.00" y1="437.50" x2="1141.00" y2="437.50" stroke="#28251f" stroke-width="1.25"/>
<polygon points="996.00,437.50 1004.00,436.10 1004.00,438.90" fill="#28251f"/>
<polygon points="1115.00,437.50 1107.00,438.90 1107.00,436.10" fill="#28251f"/>
<polygon points="1131.00,437.50 1139.00,436.10 1139.00,438.90" fill="#28251f"/>
<line x1="996.00" y1="406.00" x2="996.00" y2="439.00" stroke="#28251f" stroke-width="1.25"/>
<line x1="1115.00" y1="403.00" x2="1115.00" y2="439.00" stroke="#28251f" stroke-width="1.75"/>
<line x1="1131.00" y1="406.00" x2="1131.00" y2="439.00" stroke="#28251f" stroke-width="1.25"/>
<text transform="translate(1055.00,434.00) scale(0.575,1)" font-family="&quot;Liberation Sans&quot;,sans-serif" font-size="20" font-weight="normal" fill="#28251f" text-anchor="middle">180</text>
<text transform="translate(1122.50,434.00) scale(0.575,1)" font-family="&quot;Liberation Sans&quot;,sans-serif" font-size="20" font-weight="normal" fill="#28251f" text-anchor="middle">25</text>
<circle cx="877.00" cy="427.00" r="17.00" stroke="#28251f" stroke-width="1.62" fill="none"/>
<rect x="872.00" y="410.30" width="10.50" height="4.80" rx="0" stroke="#28251f" stroke-width="1.50" fill="#f0f6ee"/>
<line x1="857.50" y1="427.00" x2="896.00" y2="427.00" stroke="#28251f" stroke-width="1.00"/>
<line x1="877.00" y1="412.00" x2="877.00" y2="448.00" stroke="#28251f" stroke-width="1.00"/>
<text transform="translate(879.00,387.70) scale(0.66,1)" font-family="&quot;Liberation Sans&quot;,sans-serif" font-size="16.5" font-weight="normal" fill="#28251f" text-anchor="middle">8N9</text>
<line x1="862.00" y1="391.20" x2="892.50" y2="391.20" stroke="#28251f" stroke-width="1.25"/>
<polygon points="872.00,391.20 865.00,392.50 865.00,389.90" fill="#28251f"/>
<polygon points="882.50,391.20 889.50,389.90 889.50,392.50" fill="#28251f"/>
<line x1="872.00" y1="391.00" x2="872.00" y2="411.00" stroke="#28251f" stroke-width="1.25"/>
<line x1="882.50" y1="391.00" x2="882.50" y2="411.00" stroke="#28251f" stroke-width="1.25"/>
<line x1="877.00" y1="410.50" x2="921.00" y2="410.50" stroke="#28251f" stroke-width="1.25"/>
<line x1="883.00" y1="415.00" x2="921.00" y2="415.00" stroke="#28251f" stroke-width="1.25"/>
<line x1="920.00" y1="400.00" x2="920.00" y2="434.00" stroke="#28251f" stroke-width="1.25"/>
<polygon points="920.00,410.50 918.60,403.50 921.40,403.50" fill="#28251f"/>
<polygon points="920.00,415.00 921.40,422.00 918.60,422.00" fill="#28251f"/>
<text transform="translate(915.00,431.50) rotate(-90) scale(0.7,1)" font-family="&quot;Liberation Sans&quot;,sans-serif" font-size="15" font-weight="normal" fill="#28251f" text-anchor="middle">4</text>
<line x1="860.50" y1="427.00" x2="860.50" y2="469.00" stroke="#28251f" stroke-width="1.25"/>
<line x1="893.00" y1="427.00" x2="893.00" y2="469.00" stroke="#28251f" stroke-width="1.25"/>
<line x1="851.00" y1="468.00" x2="943.00" y2="468.00" stroke="#28251f" stroke-width="1.25"/>
<polygon points="860.50,468.00 852.50,469.40 852.50,466.60" fill="#28251f"/>
<polygon points="893.00,468.00 901.00,466.60 901.00,469.40" fill="#28251f"/>
<text transform="translate(925.00,465.00) scale(0.64,1)" font-family="&quot;Liberation Sans&quot;,sans-serif" font-size="17.5" font-weight="normal" fill="#28251f" text-anchor="middle">ø25h6</text>
<text transform="translate(887.00,501.50) scale(0.8,1)" font-family="&quot;Liberation Sans&quot;,&quot;Noto Sans CJK SC&quot;,sans-serif" font-size="19" font-weight="900" fill="#1f1c18" text-anchor="middle">输入、输出轴</text>
</g>
<g>
<line x1="184.50" y1="987.50" x2="480.50" y2="987.50" stroke="#28251f" stroke-width="1.20"/>
<polygon points="184.50,987.50 189.50,986.60 189.50,988.40" fill="#28251f"/>
<polygon points="480.50,987.50 475.50,988.40 475.50,986.60" fill="#28251f"/>
<line x1="184.50" y1="1015.00" x2="256.00" y2="1015.00" stroke="#28251f" stroke-width="1.20"/>
<polygon points="184.50,1015.00 189.50,1014.10 189.50,1015.90" fill="#28251f"/>
<polygon points="256.00,1015.00 251.00,1015.90 251.00,1014.10" fill="#28251f"/>
<line x1="256.00" y1="1015.00" x2="408.75" y2="1015.00" stroke="#28251f" stroke-width="1.20"/>
<polygon points="256.00,1015.00 261.00,1014.10 261.00,1015.90" fill="#28251f"/>
<polygon points="408.75,1015.00 403.75,1015.90 403.75,1014.10" fill="#28251f"/>
<line x1="408.75" y1="1015.00" x2="480.50" y2="1015.00" stroke="#28251f" stroke-width="1.20"/>
<polygon points="408.75,1015.00 413.75,1014.10 413.75,1015.90" fill="#28251f"/>
<polygon points="480.50,1015.00 475.50,1015.90 475.50,1014.10" fill="#28251f"/>
<line x1="184.50" y1="1035.50" x2="250.00" y2="1035.50" stroke="#28251f" stroke-width="1.20"/>
<polygon points="184.50,1035.50 189.50,1034.60 189.50,1036.40" fill="#28251f"/>
<polygon points="250.00,1035.50 245.00,1036.40 245.00,1034.60" fill="#28251f"/>
<line x1="184.50" y1="1062.50" x2="238.75" y2="1062.50" stroke="#28251f" stroke-width="1.20"/>
<polygon points="184.50,1062.50 189.50,1061.60 189.50,1063.40" fill="#28251f"/>
<polygon points="238.75,1062.50 233.75,1063.40 233.75,1061.60" fill="#28251f"/>
<line x1="414.50" y1="1035.50" x2="480.50" y2="1035.50" stroke="#28251f" stroke-width="1.20"/>
<polygon points="414.50,1035.50 419.50,1034.60 419.50,1036.40" fill="#28251f"/>
<polygon points="480.50,1035.50 475.50,1036.40 475.50,1034.60" fill="#28251f"/>
<line x1="424.25" y1="1063.00" x2="480.50" y2="1063.00" stroke="#28251f" stroke-width="1.20"/>
<polygon points="424.25,1063.00 429.25,1062.10 429.25,1063.90" fill="#28251f"/>
<polygon points="480.50,1063.00 475.50,1063.90 475.50,1062.10" fill="#28251f"/>
<text transform="translate(332.00,986.70) scale(0.645,1)" font-family="&quot;Liberation Sans&quot;,sans-serif" font-size="16" font-weight="normal" fill="#28251f" text-anchor="middle">270</text>
<text transform="translate(220.00,1014.70) scale(0.645,1)" font-family="&quot;Liberation Sans&quot;,sans-serif" font-size="16" font-weight="normal" fill="#28251f" text-anchor="middle">65</text>
<text transform="translate(332.00,1014.70) scale(0.645,1)" font-family="&quot;Liberation Sans&quot;,sans-serif" font-size="16" font-weight="normal" fill="#28251f" text-anchor="middle">140</text>
<text transform="translate(444.40,1014.70) scale(0.645,1)" font-family="&quot;Liberation Sans&quot;,sans-serif" font-size="16" font-weight="normal" fill="#28251f" text-anchor="middle">65</text>
<text transform="translate(218.00,1035.40) scale(0.645,1)" font-family="&quot;Liberation Sans&quot;,sans-serif" font-size="16" font-weight="normal" fill="#28251f" text-anchor="middle">60</text>
<text transform="translate(211.00,1062.50) scale(0.645,1)" font-family="&quot;Liberation Sans&quot;,sans-serif" font-size="16" font-weight="normal" fill="#28251f" text-anchor="middle">50</text>
<text transform="translate(446.80,1035.40) scale(0.645,1)" font-family="&quot;Liberation Sans&quot;,sans-serif" font-size="16" font-weight="normal" fill="#28251f" text-anchor="middle">60</text>
<text transform="translate(452.70,1062.70) scale(0.645,1)" font-family="&quot;Liberation Sans&quot;,sans-serif" font-size="16" font-weight="normal" fill="#28251f" text-anchor="middle">50</text>
<line x1="184.50" y1="985.00" x2="184.50" y2="1286.00" stroke="#28251f" stroke-width="1.44"/>
<line x1="480.50" y1="985.00" x2="480.50" y2="1179.00" stroke="#28251f" stroke-width="1.44"/>
<line x1="480.50" y1="1250.00" x2="480.50" y2="1288.00" stroke="#28251f" stroke-width="1.44"/>
<line x1="250.30" y1="1035.50" x2="250.30" y2="1250.00" stroke="#28251f" stroke-width="1.20"/>
<line x1="239.30" y1="1062.50" x2="239.30" y2="1259.00" stroke="#28251f" stroke-width="1.20"/>
<line x1="414.50" y1="1035.50" x2="414.50" y2="1141.00" stroke="#28251f" stroke-width="1.20"/>
<line x1="424.25" y1="1063.00" x2="424.25" y2="1150.00" stroke="#28251f" stroke-width="1.20"/>
<line x1="256.00" y1="1013.00" x2="256.00" y2="1378.75" stroke="#28251f" stroke-width="1.92"/>
<line x1="408.75" y1="1013.00" x2="408.75" y2="1378.75" stroke="#28251f" stroke-width="1.92"/>
<polygon points="256.00,1015.00 254.00,1014.00 258.00,1014.00" fill="#28251f"/>
<line x1="256.00" y1="1068.00" x2="300.00" y2="1068.00" stroke="#28251f" stroke-width="1.32"/>
<line x1="365.00" y1="1068.00" x2="408.75" y2="1068.00" stroke="#28251f" stroke-width="1.32"/>
<line x1="300.00" y1="1069.60" x2="365.00" y2="1069.60" stroke="#28251f" stroke-width="1.20"/>
<line x1="300.00" y1="1068.00" x2="300.00" y2="1105.50" stroke="#28251f" stroke-width="1.32"/>
<line x1="365.00" y1="1068.00" x2="365.00" y2="1105.50" stroke="#28251f" stroke-width="1.32"/>
<line x1="254.00" y1="1105.50" x2="410.50" y2="1105.50" stroke="#28251f" stroke-width="1.44"/>
<line x1="254.00" y1="1111.00" x2="410.50" y2="1111.00" stroke="#28251f" stroke-width="1.44"/>
<line x1="254.00" y1="1335.60" x2="410.50" y2="1335.60" stroke="#28251f" stroke-width="1.44"/>
<line x1="254.00" y1="1340.20" x2="410.50" y2="1340.20" stroke="#28251f" stroke-width="1.44"/>
<line x1="256.00" y1="1378.75" x2="300.00" y2="1378.75" stroke="#28251f" stroke-width="1.32"/>
<line x1="365.00" y1="1378.75" x2="408.75" y2="1378.75" stroke="#28251f" stroke-width="1.32"/>
<line x1="300.00" y1="1376.20" x2="365.00" y2="1376.20" stroke="#28251f" stroke-width="1.20"/>
<line x1="300.00" y1="1340.00" x2="300.00" y2="1378.75" stroke="#28251f" stroke-width="1.32"/>
<line x1="365.00" y1="1340.00" x2="365.00" y2="1378.75" stroke="#28251f" stroke-width="1.32"/>
<path d="M256.00,1100.00 L283.00,1100.00" stroke="#8d8a7e" stroke-width="1.56" fill="none" stroke-dasharray="7 2"/>
<path d="M283.00,1100.00 Q288.00,1100.00 288.00,1094.50 L288.00,1079.50 Q288.50,1073.50 294.50,1072.00" stroke="#28251f" stroke-width="1.08" fill="none"/>
<path d="M408.75,1100.00 L381.75,1100.00" stroke="#8d8a7e" stroke-width="1.56" fill="none" stroke-dasharray="7 2"/>
<path d="M381.75,1100.00 Q376.75,1100.00 376.75,1094.50 L376.75,1079.50 Q376.25,1073.50 370.25,1072.00" stroke="#28251f" stroke-width="1.08" fill="none"/>
<path d="M256.00,1350.00 L279.00,1350.00 Q286.00,1350.00 286.00,1356.20 L286.00,1367.20 Q286.00,1374.50 293.00,1374.50 L300.00,1374.50" stroke="#28251f" stroke-width="1.08" fill="none"/>
<path d="M408.75,1350.00 L385.75,1350.00 Q378.75,1350.00 378.75,1356.20 L378.75,1367.20 Q378.75,1374.50 371.75,1374.50 L364.75,1374.50" stroke="#28251f" stroke-width="1.08" fill="none"/>
<circle cx="272.50" cy="1083.75" r="6.40" stroke="#28251f" stroke-width="1.44" fill="none"/>
<line x1="264.50" y1="1083.75" x2="280.50" y2="1083.75" stroke="#28251f" stroke-width="1.08"/>
<line x1="272.50" y1="1075.75" x2="272.50" y2="1091.75" stroke="#28251f" stroke-width="1.08"/>
<circle cx="392.00" cy="1083.75" r="6.40" stroke="#28251f" stroke-width="1.44" fill="none"/>
<line x1="384.00" y1="1083.75" x2="400.00" y2="1083.75" stroke="#28251f" stroke-width="1.08"/>
<line x1="392.00" y1="1075.75" x2="392.00" y2="1091.75" stroke="#28251f" stroke-width="1.08"/>
<circle cx="272.50" cy="1362.00" r="6.40" stroke="#28251f" stroke-width="1.44" fill="none"/>
<line x1="264.50" y1="1362.00" x2="280.50" y2="1362.00" stroke="#28251f" stroke-width="1.08"/>
<line x1="272.50" y1="1354.00" x2="272.50" y2="1370.00" stroke="#28251f" stroke-width="1.08"/>
<circle cx="392.00" cy="1362.00" r="6.40" stroke="#28251f" stroke-width="1.44" fill="none"/>
<line x1="384.00" y1="1362.00" x2="400.00" y2="1362.00" stroke="#28251f" stroke-width="1.08"/>
<line x1="392.00" y1="1354.00" x2="392.00" y2="1370.00" stroke="#28251f" stroke-width="1.08"/>
<circle cx="275.00" cy="1120.50" r="4.20" stroke="#28251f" stroke-width="1.44" fill="none"/>
<circle cx="275.00" cy="1184.30" r="4.20" stroke="#28251f" stroke-width="1.44" fill="none"/>
<circle cx="275.00" cy="1259.00" r="4.20" stroke="#28251f" stroke-width="1.44" fill="none"/>
<circle cx="275.00" cy="1325.75" r="4.20" stroke="#28251f" stroke-width="1.44" fill="none"/>
<circle cx="389.50" cy="1120.50" r="4.20" stroke="#28251f" stroke-width="1.44" fill="none"/>
<circle cx="389.50" cy="1184.30" r="4.20" stroke="#28251f" stroke-width="1.44" fill="none"/>
<circle cx="389.50" cy="1259.00" r="4.20" stroke="#28251f" stroke-width="1.44" fill="none"/>
<circle cx="389.50" cy="1325.75" r="4.20" stroke="#28251f" stroke-width="1.44" fill="none"/>
<line x1="333.00" y1="1064.00" x2="333.00" y2="1383.00" stroke="#28251f" stroke-width="1.08" stroke-dasharray="14 3 3 3"/>
<line x1="250.00" y1="1160.20" x2="484.00" y2="1160.20" stroke="#28251f" stroke-width="1.08" stroke-dasharray="14 3 3 3"/>
<line x1="181.00" y1="1268.90" x2="484.00" y2="1268.90" stroke="#28251f" stroke-width="1.08" stroke-dasharray="14 3 3 3"/>
<line x1="154.50" y1="1250.00" x2="251.00" y2="1250.00" stroke="#28251f" stroke-width="1.20"/>
<line x1="154.50" y1="1288.00" x2="251.00" y2="1288.00" stroke="#28251f" stroke-width="1.20"/>
<rect x="251.00" y="1250.00" width="5.00" height="38.00" rx="0" stroke="#28251f" stroke-width="1.56" fill="none"/>
<line x1="184.50" y1="1252.60" x2="251.00" y2="1252.60" stroke="#28251f" stroke-width="1.32"/>
<line x1="184.50" y1="1286.00" x2="251.00" y2="1286.00" stroke="#28251f" stroke-width="1.32"/>
<line x1="186.00" y1="1258.00" x2="239.30" y2="1258.00" stroke="#8d8a7e" stroke-width="1.56" stroke-dasharray="7 2"/>
<line x1="154.50" y1="1250.00" x2="154.50" y2="1288.00" stroke="#28251f" stroke-width="1.20"/>
<line x1="171.50" y1="1250.00" x2="171.50" y2="1288.00" stroke="#28251f" stroke-width="1.20"/>
<text transform="translate(153.60,1269.00) rotate(-90) scale(0.8,1)" font-family="&quot;Liberation Sans&quot;,sans-serif" font-size="14" font-weight="normal" fill="#28251f" text-anchor="middle">ø35</text>
<text transform="translate(170.90,1269.00) rotate(-90) scale(0.8,1)" font-family="&quot;Liberation Sans&quot;,sans-serif" font-size="13" font-weight="normal" fill="#28251f" text-anchor="middle">ø30h6</text>
<rect x="408.75" y="1141.00" width="5.70" height="38.50" rx="0" stroke="#28251f" stroke-width="1.68" fill="none"/>
<line x1="414.50" y1="1143.40" x2="480.50" y2="1143.40" stroke="#28251f" stroke-width="1.32"/>
<line x1="414.50" y1="1176.90" x2="480.50" y2="1176.90" stroke="#28251f" stroke-width="1.32"/>
<line x1="424.25" y1="1149.80" x2="480.50" y2="1149.80" stroke="#8d8a7e" stroke-width="1.68" stroke-dasharray="7 2"/>
<line x1="480.50" y1="1141.00" x2="480.50" y2="1179.50" stroke="#28251f" stroke-width="1.44"/>
<line x1="414.50" y1="1141.00" x2="530.60" y2="1141.00" stroke="#28251f" stroke-width="1.20"/>
<line x1="414.50" y1="1179.50" x2="530.60" y2="1179.50" stroke="#28251f" stroke-width="1.20"/>
<line x1="530.60" y1="1141.00" x2="530.60" y2="1179.50" stroke="#28251f" stroke-width="1.20"/>
<line x1="505.80" y1="1141.00" x2="505.80" y2="1179.50" stroke="#28251f" stroke-width="1.08"/>
<text transform="translate(505.00,1160.25) rotate(-90) scale(0.68,1)" font-family="&quot;Liberation Sans&quot;,sans-serif" font-size="16.5" font-weight="normal" fill="#28251f" text-anchor="middle">ø30h6</text>
<text transform="translate(529.60,1160.25) rotate(-90) scale(0.62,1)" font-family="&quot;Liberation Sans&quot;,sans-serif" font-size="16.5" font-weight="normal" fill="#28251f" text-anchor="middle">ø35</text>
<rect x="408.75" y="1249.50" width="5.70" height="40.00" rx="0" stroke="#28251f" stroke-width="1.68" fill="none"/>
<line x1="414.50" y1="1251.90" x2="480.50" y2="1251.90" stroke="#28251f" stroke-width="1.32"/>
<line x1="414.50" y1="1286.90" x2="480.50" y2="1286.90" stroke="#28251f" stroke-width="1.32"/>
<line x1="424.25" y1="1259.00" x2="480.50" y2="1259.00" stroke="#28251f" stroke-width="1.20"/>
<line x1="424.25" y1="1251.90" x2="424.25" y2="1259.00" stroke="#28251f" stroke-width="1.20"/>
<line x1="480.50" y1="1249.50" x2="480.50" y2="1289.50" stroke="#28251f" stroke-width="1.44"/>
<line x1="414.50" y1="1249.50" x2="530.60" y2="1249.50" stroke="#28251f" stroke-width="1.20"/>
<line x1="414.50" y1="1289.50" x2="530.60" y2="1289.50" stroke="#28251f" stroke-width="1.20"/>
<line x1="530.60" y1="1249.50" x2="530.60" y2="1289.50" stroke="#28251f" stroke-width="1.20"/>
<line x1="505.80" y1="1249.50" x2="505.80" y2="1289.50" stroke="#28251f" stroke-width="1.08"/>
<text transform="translate(505.00,1269.50) rotate(-90) scale(0.68,1)" font-family="&quot;Liberation Sans&quot;,sans-serif" font-size="16.5" font-weight="normal" fill="#28251f" text-anchor="middle">ø30h6</text>
<text transform="translate(529.60,1269.50) rotate(-90) scale(0.62,1)" font-family="&quot;Liberation Sans&quot;,sans-serif" font-size="16.5" font-weight="normal" fill="#28251f" text-anchor="middle">ø35</text>
<line x1="223.00" y1="1083.75" x2="223.00" y2="1379.00" stroke="#28251f" stroke-width="1.20"/>
<line x1="223.00" y1="1083.75" x2="267.00" y2="1083.75" stroke="#28251f" stroke-width="1.20"/>
<line x1="223.00" y1="1362.00" x2="267.00" y2="1362.00" stroke="#28251f" stroke-width="2.04"/>
<line x1="223.00" y1="1379.00" x2="256.00" y2="1379.00" stroke="#28251f" stroke-width="1.20"/>
<text transform="translate(222.40,1222.50) rotate(-90) scale(0.645,1)" font-family="&quot;Liberation Sans&quot;,sans-serif" font-size="16" font-weight="normal" fill="#28251f" text-anchor="middle">255</text>
<text transform="translate(222.40,1370.00) rotate(-90) scale(0.645,1)" font-family="&quot;Liberation Sans&quot;,sans-serif" font-size="16" font-weight="normal" fill="#28251f" text-anchor="middle">15</text>
<line x1="255.00" y1="1414.50" x2="392.50" y2="1414.50" stroke="#28251f" stroke-width="1.20"/>
<line x1="256.00" y1="1378.75" x2="256.00" y2="1416.00" stroke="#28251f" stroke-width="1.20"/>
<line x1="272.50" y1="1368.00" x2="272.50" y2="1416.00" stroke="#28251f" stroke-width="1.56"/>
<line x1="392.30" y1="1368.00" x2="392.30" y2="1416.00" stroke="#28251f" stroke-width="1.20"/>
<text transform="translate(264.50,1413.70) scale(0.645,1)" font-family="&quot;Liberation Sans&quot;,sans-serif" font-size="16" font-weight="normal" fill="#28251f" text-anchor="middle">15</text>
<text transform="translate(332.50,1413.70) scale(0.645,1)" font-family="&quot;Liberation Sans&quot;,sans-serif" font-size="16" font-weight="normal" fill="#28251f" text-anchor="middle">110</text>
<line x1="380.00" y1="1317.00" x2="408.75" y2="1317.00" stroke="#28251f" stroke-width="1.20"/>
<line x1="380.00" y1="1317.00" x2="380.00" y2="1366.00" stroke="#28251f" stroke-width="1.20"/>
<text transform="translate(394.00,1316.70) scale(0.645,1)" font-family="&quot;Liberation Sans&quot;,sans-serif" font-size="16" font-weight="normal" fill="#28251f" text-anchor="middle">27</text>
<line x1="408.75" y1="1348.00" x2="430.30" y2="1348.00" stroke="#28251f" stroke-width="1.20"/>
<line x1="408.75" y1="1379.00" x2="430.30" y2="1379.00" stroke="#28251f" stroke-width="1.20"/>
<line x1="429.80" y1="1348.00" x2="429.80" y2="1379.00" stroke="#28251f" stroke-width="1.20"/>
<text transform="translate(428.90,1362.50) rotate(-90) scale(0.645,1)" font-family="&quot;Liberation Sans&quot;,sans-serif" font-size="16" font-weight="normal" fill="#28251f" text-anchor="middle">27</text>
<path d="M392,1362 L430.7,1399.5 L485.7,1399.5" stroke="#28251f" stroke-width="1.20" fill="none"/>
<polygon points="395.00,1365.00 400.87,1369.00 399.20,1370.73" fill="#28251f"/>
<text transform="translate(471.50,1398.70) scale(0.78,1)" font-family="&quot;Liberation Sans&quot;,sans-serif" font-size="14" font-weight="normal" fill="#28251f" text-anchor="middle">4-ø11</text>
<text transform="translate(469.80,1410.50) scale(0.8,1)" font-family="&quot;Liberation Sans&quot;,&quot;Noto Sans CJK SC&quot;,sans-serif" font-size="10" font-weight="bold" fill="#1f1c18" text-anchor="middle">两面对应</text>
<line x1="569.50" y1="987.50" x2="788.75" y2="987.50" stroke="#28251f" stroke-width="1.20"/>
<polygon points="569.50,987.50 574.50,986.60 574.50,988.40" fill="#28251f"/>
<polygon points="788.75,987.50 783.75,988.40 783.75,986.60" fill="#28251f"/>
<line x1="569.50" y1="1014.50" x2="678.75" y2="1014.50" stroke="#28251f" stroke-width="1.20"/>
<polygon points="569.50,1014.50 574.50,1013.60 574.50,1015.40" fill="#28251f"/>
<polygon points="678.75,1014.50 673.75,1015.40 673.75,1013.60" fill="#28251f"/>
<line x1="569.50" y1="1035.00" x2="603.00" y2="1035.00" stroke="#28251f" stroke-width="1.20"/>
<polygon points="569.50,1035.00 574.50,1034.10 574.50,1035.90" fill="#28251f"/>
<polygon points="603.00,1035.00 598.00,1035.90 598.00,1034.10" fill="#28251f"/>
<text transform="translate(678.75,986.70) scale(0.645,1)" font-family="&quot;Liberation Sans&quot;,sans-serif" font-size="16" font-weight="normal" fill="#28251f" text-anchor="middle">200</text>
<text transform="translate(624.50,1014.00) scale(0.645,1)" font-family="&quot;Liberation Sans&quot;,sans-serif" font-size="16" font-weight="normal" fill="#28251f" text-anchor="middle">100</text>
<text transform="translate(586.00,1034.70) scale(0.645,1)" font-family="&quot;Liberation Sans&quot;,sans-serif" font-size="16" font-weight="normal" fill="#28251f" text-anchor="middle">30</text>
<line x1="569.50" y1="985.00" x2="569.50" y2="1113.75" stroke="#28251f" stroke-width="1.32"/>
<line x1="788.75" y1="985.00" x2="788.75" y2="1378.75" stroke="#28251f" stroke-width="1.32"/>
<line x1="603.00" y1="1035.00" x2="603.00" y2="1096.00" stroke="#28251f" stroke-width="1.32"/>
<line x1="678.75" y1="1014.50" x2="678.75" y2="1395.00" stroke="#28251f" stroke-width="1.08" stroke-dasharray="14 3 3 3"/>
<path d="M569.5,1068 L603,1068 L603,1096 Q603,1100.5 608,1100.5 L750.5,1100.5 Q755.5,1100.5 755.5,1096 L755.5,1068 L788.75,1068" stroke="#28251f" stroke-width="1.44" fill="none"/>
<line x1="603.00" y1="1070.20" x2="755.50" y2="1070.20" stroke="#28251f" stroke-width="1.32"/>
<path d="M569.5,1113.75 L573,1116 L573,1330 L569.5,1332.5 L569.5,1378.75 L603,1378.75 L603,1350 Q603,1345.5 608,1345.5 L750.5,1345.5 Q755.5,1345.5 755.5,1350 L755.5,1378.75 L843,1378.75" stroke="#28251f" stroke-width="1.44" fill="none"/>
<line x1="603.00" y1="1376.20" x2="755.50" y2="1376.20" stroke="#28251f" stroke-width="1.32"/>
<line x1="569.50" y1="1077.00" x2="603.00" y2="1077.00" stroke="#8d8a7e" stroke-width="1.80" stroke-dasharray="9 2"/>
<line x1="569.50" y1="1090.30" x2="603.00" y2="1090.30" stroke="#28251f" stroke-width="1.20"/>
<line x1="569.50" y1="1356.00" x2="603.00" y2="1356.00" stroke="#28251f" stroke-width="1.20"/>
<line x1="569.50" y1="1369.30" x2="603.00" y2="1369.30" stroke="#28251f" stroke-width="1.20"/>
<line x1="755.50" y1="1077.00" x2="788.75" y2="1077.00" stroke="#8d8a7e" stroke-width="1.80" stroke-dasharray="9 2"/>
<line x1="755.50" y1="1090.30" x2="788.75" y2="1090.30" stroke="#28251f" stroke-width="1.20"/>
<line x1="755.50" y1="1356.00" x2="788.75" y2="1356.00" stroke="#28251f" stroke-width="1.20"/>
<line x1="755.50" y1="1369.30" x2="788.75" y2="1369.30" stroke="#28251f" stroke-width="1.20"/>
<line x1="565.00" y1="1083.90" x2="607.00" y2="1083.90" stroke="#28251f" stroke-width="1.08" stroke-dasharray="12 2 3 2"/>
<line x1="565.00" y1="1362.50" x2="607.00" y2="1362.50" stroke="#8d8a7e" stroke-width="1.80" stroke-dasharray="12 2 3 2"/>
<line x1="752.00" y1="1083.90" x2="793.00" y2="1083.90" stroke="#28251f" stroke-width="1.08" stroke-dasharray="12 2 3 2"/>
<line x1="752.00" y1="1362.50" x2="793.00" y2="1362.50" stroke="#8d8a7e" stroke-width="1.80" stroke-dasharray="12 2 3 2"/>
<path d="M787.5,1115 L777.5,1115 L777.5,1332 L787.5,1332" stroke="#28251f" stroke-width="1.44" fill="none"/>
<line x1="777.50" y1="1115.40" x2="787.50" y2="1115.40" stroke="#28251f" stroke-width="2.40"/>
<line x1="777.50" y1="1331.80" x2="787.50" y2="1331.80" stroke="#28251f" stroke-width="2.40"/>
<line x1="786.60" y1="1115.00" x2="786.60" y2="1378.00" stroke="#28251f" stroke-width="1.08"/>
<line x1="569.50" y1="1160.20" x2="818.00" y2="1160.20" stroke="#28251f" stroke-width="1.08" stroke-dasharray="14 3 3 3"/>
<line x1="569.50" y1="1268.90" x2="818.00" y2="1268.90" stroke="#28251f" stroke-width="1.08" stroke-dasharray="14 3 3 3"/>
<path d="M662.95,1210.28 A52.5,52.5 0 1 1 694.55,1210.28" stroke="#28251f" stroke-width="1.44" fill="none"/>
<path d="M694.55,1210.28 A60.75,60.75 0 1 1 662.95,1210.28" stroke="#28251f" stroke-width="1.44" fill="none"/>
<circle cx="678.75" cy="1118.20" r="4.20" stroke="#28251f" stroke-width="1.08" fill="#f0f6ee"/>
<circle cx="678.75" cy="1118.20" r="2.20" stroke="#28251f" stroke-width="1.08" fill="none"/>
<line x1="674.55" y1="1118.20" x2="682.95" y2="1118.20" stroke="#28251f" stroke-width="0.84"/>
<line x1="678.75" y1="1114.00" x2="678.75" y2="1122.40" stroke="#28251f" stroke-width="0.84"/>
<circle cx="636.75" cy="1160.20" r="4.20" stroke="#28251f" stroke-width="1.08" fill="#f0f6ee"/>
<circle cx="636.75" cy="1160.20" r="2.20" stroke="#28251f" stroke-width="1.08" fill="none"/>
<line x1="632.55" y1="1160.20" x2="640.95" y2="1160.20" stroke="#28251f" stroke-width="0.84"/>
<line x1="636.75" y1="1156.00" x2="636.75" y2="1164.40" stroke="#28251f" stroke-width="0.84"/>
<circle cx="720.75" cy="1160.20" r="4.20" stroke="#28251f" stroke-width="1.08" fill="#f0f6ee"/>
<circle cx="720.75" cy="1160.20" r="2.20" stroke="#28251f" stroke-width="1.08" fill="none"/>
<line x1="716.55" y1="1160.20" x2="724.95" y2="1160.20" stroke="#28251f" stroke-width="0.84"/>
<line x1="720.75" y1="1156.00" x2="720.75" y2="1164.40" stroke="#28251f" stroke-width="0.84"/>
<circle cx="678.75" cy="1202.20" r="4.20" stroke="#28251f" stroke-width="1.08" fill="#f0f6ee"/>
<circle cx="678.75" cy="1202.20" r="2.20" stroke="#28251f" stroke-width="1.08" fill="none"/>
<line x1="674.55" y1="1202.20" x2="682.95" y2="1202.20" stroke="#28251f" stroke-width="0.84"/>
<line x1="678.75" y1="1198.00" x2="678.75" y2="1206.40" stroke="#28251f" stroke-width="0.84"/>
<circle cx="678.75" cy="1160.20" r="19.00" stroke="#28251f" stroke-width="1.80" fill="none" stroke-dasharray="5 2.5"/>
<circle cx="678.75" cy="1160.20" r="15.30" stroke="#28251f" stroke-width="1.08" fill="none"/>
<rect x="674.00" y="1143.50" width="9.50" height="3.50" rx="0" stroke="#28251f" stroke-width="1.08" fill="none"/>
<circle cx="678.75" cy="1268.90" r="53.75" stroke="#28251f" stroke-width="1.08" fill="none" stroke-dasharray="18 3 3 3"/>
<circle cx="678.75" cy="1268.90" r="47.50" stroke="#28251f" stroke-width="1.44" fill="none"/>
<circle cx="678.75" cy="1268.90" r="19.70" stroke="#28251f" stroke-width="1.44" fill="none"/>
<circle cx="678.75" cy="1268.90" r="15.80" stroke="#28251f" stroke-width="1.20" fill="none"/>
<rect x="673.20" y="1254.80" width="11.00" height="4.40" rx="0" stroke="#28251f" stroke-width="1.08" fill="#f0f6ee"/>
<circle cx="678.75" cy="1232.65" r="3.30" stroke="#28251f" stroke-width="1.32" fill="none"/>
<circle cx="642.50" cy="1268.90" r="3.30" stroke="#28251f" stroke-width="1.32" fill="none"/>
<circle cx="715.00" cy="1268.90" r="3.30" stroke="#28251f" stroke-width="1.32" fill="none"/>
<circle cx="678.75" cy="1305.15" r="3.30" stroke="#28251f" stroke-width="1.32" fill="none"/>
<path d="M732.52,1289.54 A57.6,57.6 0 0 1 724.75,1303.56 A3.70,3.70 0 0 1 718.84,1299.11 A50.2,50.2 0 0 0 725.62,1286.89 A3.70,3.70 0 0 1 732.52,1289.54 Z" stroke="#28251f" stroke-width="1.08" fill="none"/>
<path d="M713.41,1314.90 A57.6,57.6 0 0 1 698.45,1323.03 A3.70,3.70 0 0 1 695.92,1316.07 A50.2,50.2 0 0 0 708.96,1308.99 A3.70,3.70 0 0 1 713.41,1314.90 Z" stroke="#28251f" stroke-width="1.08" fill="none"/>
<path d="M658.11,1322.67 A57.6,57.6 0 0 1 644.09,1314.90 A3.70,3.70 0 0 1 648.54,1308.99 A50.2,50.2 0 0 0 660.76,1315.77 A3.70,3.70 0 0 1 658.11,1322.67 Z" stroke="#28251f" stroke-width="1.08" fill="none"/>
<path d="M632.75,1303.56 A57.6,57.6 0 0 1 624.62,1288.60 A3.70,3.70 0 0 1 631.58,1286.07 A50.2,50.2 0 0 0 638.66,1299.11 A3.70,3.70 0 0 1 632.75,1303.56 Z" stroke="#28251f" stroke-width="1.08" fill="none"/>
<path d="M624.98,1248.26 A57.6,57.6 0 0 1 632.75,1234.24 A3.70,3.70 0 0 1 638.66,1238.69 A50.2,50.2 0 0 0 631.88,1250.91 A3.70,3.70 0 0 1 624.98,1248.26 Z" stroke="#28251f" stroke-width="1.08" fill="none"/>
<path d="M644.09,1222.90 A57.6,57.6 0 0 1 659.05,1214.77 A3.70,3.70 0 0 1 661.58,1221.73 A50.2,50.2 0 0 0 648.54,1228.81 A3.70,3.70 0 0 1 644.09,1222.90 Z" stroke="#28251f" stroke-width="1.08" fill="none"/>
<path d="M699.39,1215.13 A57.6,57.6 0 0 1 713.41,1222.90 A3.70,3.70 0 0 1 708.96,1228.81 A50.2,50.2 0 0 0 696.74,1222.03 A3.70,3.70 0 0 1 699.39,1215.13 Z" stroke="#28251f" stroke-width="1.08" fill="none"/>
<path d="M724.75,1234.24 A57.6,57.6 0 0 1 732.88,1249.20 A3.70,3.70 0 0 1 725.92,1251.73 A50.2,50.2 0 0 0 718.84,1238.69 A3.70,3.70 0 0 1 724.75,1234.24 Z" stroke="#28251f" stroke-width="1.08" fill="none"/>
<polygon points="720.47,1310.62 715.83,1311.86 712.44,1308.47 713.68,1303.83 718.32,1302.59 721.71,1305.98" fill="#f0f6ee" stroke="#28251f" stroke-width="1.2"/>
<circle cx="717.08" cy="1307.23" r="2.40" stroke="#28251f" stroke-width="1.08" fill="none"/>
<polygon points="637.03,1310.62 635.79,1305.98 639.18,1302.59 643.82,1303.83 645.06,1308.47 641.67,1311.86" fill="#f0f6ee" stroke="#28251f" stroke-width="1.2"/>
<circle cx="640.42" cy="1307.23" r="2.40" stroke="#28251f" stroke-width="1.08" fill="none"/>
<polygon points="637.03,1227.18 641.67,1225.94 645.06,1229.33 643.82,1233.97 639.18,1235.21 635.79,1231.82" fill="#f0f6ee" stroke="#28251f" stroke-width="1.2"/>
<circle cx="640.42" cy="1230.57" r="2.40" stroke="#28251f" stroke-width="1.08" fill="none"/>
<polygon points="720.47,1227.18 721.71,1231.82 718.32,1235.21 713.68,1233.97 712.44,1229.33 715.83,1225.94" fill="#f0f6ee" stroke="#28251f" stroke-width="1.2"/>
<circle cx="717.08" cy="1230.57" r="2.40" stroke="#28251f" stroke-width="1.08" fill="none"/>
<line x1="788.75" y1="1068.00" x2="843.00" y2="1068.00" stroke="#28251f" stroke-width="1.32"/>
<line x1="816.00" y1="1068.00" x2="816.00" y2="1378.75" stroke="#28251f" stroke-width="1.20"/>
<line x1="841.30" y1="1068.00" x2="841.30" y2="1378.75" stroke="#28251f" stroke-width="1.20"/>
<text transform="translate(815.60,1113.00) rotate(-90) scale(0.645,1)" font-family="&quot;Liberation Sans&quot;,sans-serif" font-size="16" font-weight="normal" fill="#28251f" text-anchor="middle">85</text>
<text transform="translate(815.60,1213.75) rotate(-90) scale(0.645,1)" font-family="&quot;Liberation Sans&quot;,sans-serif" font-size="16" font-weight="normal" fill="#28251f" text-anchor="middle">100</text>
<text transform="translate(815.60,1323.75) rotate(-90) scale(0.645,1)" font-family="&quot;Liberation Sans&quot;,sans-serif" font-size="16" font-weight="normal" fill="#28251f" text-anchor="middle">100</text>
<text transform="translate(840.60,1222.50) rotate(-90) scale(0.645,1)" font-family="&quot;Liberation Sans&quot;,sans-serif" font-size="16" font-weight="normal" fill="#28251f" text-anchor="middle">285</text>
<text transform="translate(924.00,991.50) scale(0.685,1)" font-family="&quot;Liberation Sans&quot;,sans-serif" font-size="15" font-weight="normal" fill="#28251f" text-anchor="middle">4-M10x1.5P</text>
<text transform="translate(954.00,990.50) scale(0.78,1)" font-family="&quot;Liberation Sans&quot;,&quot;Noto Sans CJK SC&quot;,sans-serif" font-size="9" font-weight="normal" fill="#1f1c18" text-anchor="middle">深</text>
<text transform="translate(961.50,991.50) scale(0.64,1)" font-family="&quot;Liberation Sans&quot;,sans-serif" font-size="15" font-weight="normal" fill="#28251f" text-anchor="middle">20</text>
<path d="M895,993 L996,993 L1017.5,1028" stroke="#28251f" stroke-width="1.20" fill="none"/>
<text transform="translate(930.00,1003.30) scale(0.82,1)" font-family="&quot;Liberation Sans&quot;,&quot;Noto Sans CJK SC&quot;,sans-serif" font-size="9.8" font-weight="bold" fill="#1f1c18" text-anchor="middle">两面对应</text>
<rect x="1000.75" y="1020.00" width="77.25" height="110.00" rx="0" stroke="#28251f" stroke-width="1.44" fill="none"/>
<line x1="1017.50" y1="1036.00" x2="1017.50" y2="1113.75" stroke="#28251f" stroke-width="1.32"/>
<line x1="1061.25" y1="1036.00" x2="1061.25" y2="1113.75" stroke="#28251f" stroke-width="1.32"/>
<line x1="1039.50" y1="1016.00" x2="1039.50" y2="1133.00" stroke="#28251f" stroke-width="1.08" stroke-dasharray="12 3 3 3"/>
<line x1="1023.75" y1="1021.80" x2="1055.00" y2="1021.80" stroke="#28251f" stroke-width="1.08"/>
<line x1="1023.75" y1="1128.20" x2="1055.00" y2="1128.20" stroke="#28251f" stroke-width="1.08"/>
<path d="M1000.75,1036 L1020.5,1036 Q1023.75,1036 1023.75,1033 L1023.75,1020" stroke="#28251f" stroke-width="1.32" fill="none"/>
<path d="M1078,1036 L1058,1036 Q1055,1036 1055,1033 L1055,1020" stroke="#28251f" stroke-width="1.32" fill="none"/>
<path d="M1000.75,1113.75 L1020.5,1113.75 Q1023.75,1113.75 1023.75,1117 L1023.75,1130" stroke="#28251f" stroke-width="1.32" fill="none"/>
<path d="M1078,1113.75 L1058,1113.75 Q1055,1113.75 1055,1117 L1055,1130" stroke="#28251f" stroke-width="1.32" fill="none"/>
<circle cx="1017.50" cy="1028.00" r="2.80" stroke="#28251f" stroke-width="0.72" fill="#1c1a17"/>
<circle cx="1061.25" cy="1028.00" r="2.80" stroke="#28251f" stroke-width="0.72" fill="#1c1a17"/>
<circle cx="1017.50" cy="1121.00" r="2.80" stroke="#28251f" stroke-width="0.72" fill="#1c1a17"/>
<circle cx="1061.25" cy="1121.00" r="2.80" stroke="#28251f" stroke-width="0.72" fill="#1c1a17"/>
<rect x="965.00" y="1067.00" width="32.50" height="16.75" rx="0" stroke="#28251f" stroke-width="1.32" fill="none"/>
<rect x="997.50" y="1065.00" width="3.20" height="21.00" rx="0" stroke="#28251f" stroke-width="1.08" fill="none"/>
<rect x="1081.00" y="1067.00" width="32.75" height="16.75" rx="0" stroke="#28251f" stroke-width="1.32" fill="none"/>
<rect x="1078.00" y="1065.00" width="3.00" height="21.00" rx="0" stroke="#28251f" stroke-width="1.08" fill="#2f2b24"/>
<line x1="962.00" y1="1075.50" x2="1118.00" y2="1075.50" stroke="#28251f" stroke-width="1.08" stroke-dasharray="14 3 3 3"/>
<line x1="956.00" y1="1028.00" x2="956.00" y2="1130.00" stroke="#28251f" stroke-width="1.20"/>
<line x1="956.00" y1="1029.50" x2="1015.00" y2="1029.50" stroke="#28251f" stroke-width="1.20"/>
<line x1="956.00" y1="1122.00" x2="1016.00" y2="1122.00" stroke="#28251f" stroke-width="2.04"/>
<line x1="956.00" y1="1130.00" x2="1000.75" y2="1130.00" stroke="#28251f" stroke-width="1.20"/>
<text transform="translate(955.90,1075.50) rotate(-90) scale(0.645,1)" font-family="&quot;Liberation Sans&quot;,sans-serif" font-size="16" font-weight="normal" fill="#28251f" text-anchor="middle">170</text>
<text transform="translate(955.90,1125.50) rotate(-90) scale(0.7,1)" font-family="&quot;Liberation Sans&quot;,sans-serif" font-size="13" font-weight="normal" fill="#28251f" text-anchor="middle">15</text>
<line x1="1017.50" y1="1157.50" x2="1078.00" y2="1157.50" stroke="#28251f" stroke-width="1.20"/>
<line x1="1017.50" y1="1130.00" x2="1017.50" y2="1158.50" stroke="#28251f" stroke-width="1.20"/>
<line x1="1061.25" y1="1123.00" x2="1061.25" y2="1158.50" stroke="#28251f" stroke-width="1.92"/>
<line x1="1078.00" y1="1130.00" x2="1078.00" y2="1158.50" stroke="#28251f" stroke-width="1.20"/>
<text transform="translate(1039.50,1157.00) scale(0.645,1)" font-family="&quot;Liberation Sans&quot;,sans-serif" font-size="16" font-weight="normal" fill="#28251f" text-anchor="middle">80</text>
<text transform="translate(1069.00,1157.00) scale(0.645,1)" font-family="&quot;Liberation Sans&quot;,sans-serif" font-size="16" font-weight="normal" fill="#28251f" text-anchor="middle">30</text>
<text transform="translate(914.50,1166.30) scale(0.685,1)" font-family="&quot;Liberation Sans&quot;,sans-serif" font-size="15" font-weight="normal" fill="#28251f" text-anchor="middle">4-M10x1.5P</text>
<text transform="translate(945.00,1165.30) scale(0.78,1)" font-family="&quot;Liberation Sans&quot;,&quot;Noto Sans CJK SC&quot;,sans-serif" font-size="9" font-weight="normal" fill="#1f1c18" text-anchor="middle">深</text>
<text transform="translate(952.50,1166.30) scale(0.64,1)" font-family="&quot;Liberation Sans&quot;,sans-serif" font-size="15" font-weight="normal" fill="#28251f" text-anchor="middle">20</text>
<path d="M885.6,1167.8 L976,1167.8 L1004.6,1208.5" stroke="#28251f" stroke-width="1.20" fill="none"/>
<text transform="translate(921.80,1178.30) scale(0.82,1)" font-family="&quot;Liberation Sans&quot;,&quot;Noto Sans CJK SC&quot;,sans-serif" font-size="9.8" font-weight="bold" fill="#1f1c18" text-anchor="middle">两面对应</text>
<rect x="987.70" y="1199.80" width="157.50" height="109.90" rx="0" stroke="#28251f" stroke-width="1.44" fill="none"/>
<rect x="1011.30" y="1201.30" width="110.00" height="4.40" rx="0" stroke="#28251f" stroke-width="1.08" fill="none"/>
<line x1="987.70" y1="1217.30" x2="1008.00" y2="1217.30" stroke="#28251f" stroke-width="1.32"/>
<line x1="1124.00" y1="1217.30" x2="1145.20" y2="1217.30" stroke="#28251f" stroke-width="1.32"/>
<line x1="987.70" y1="1293.00" x2="1008.00" y2="1293.00" stroke="#28251f" stroke-width="1.32"/>
<line x1="1124.00" y1="1293.00" x2="1145.20" y2="1293.00" stroke="#28251f" stroke-width="1.32"/>
<line x1="1011.30" y1="1199.80" x2="1011.30" y2="1214.00" stroke="#28251f" stroke-width="1.08"/>
<line x1="1121.30" y1="1199.80" x2="1121.30" y2="1214.00" stroke="#28251f" stroke-width="1.08"/>
<line x1="1011.30" y1="1296.00" x2="1011.30" y2="1309.70" stroke="#28251f" stroke-width="1.08"/>
<line x1="1121.30" y1="1296.00" x2="1121.30" y2="1309.70" stroke="#28251f" stroke-width="1.08"/>
<line x1="1011.30" y1="1305.80" x2="1121.30" y2="1305.80" stroke="#28251f" stroke-width="1.08"/>
<line x1="990.30" y1="1217.30" x2="990.30" y2="1293.00" stroke="#28251f" stroke-width="1.32"/>
<line x1="1004.60" y1="1217.30" x2="1004.60" y2="1293.00" stroke="#28251f" stroke-width="1.32"/>
<line x1="1128.00" y1="1217.30" x2="1128.00" y2="1293.00" stroke="#28251f" stroke-width="1.32"/>
<line x1="1142.60" y1="1217.30" x2="1142.60" y2="1293.00" stroke="#28251f" stroke-width="1.32"/>
<circle cx="1004.60" cy="1209.00" r="3.00" stroke="#28251f" stroke-width="0.72" fill="#1c1a17"/>
<circle cx="1127.70" cy="1209.00" r="3.00" stroke="#28251f" stroke-width="0.72" fill="#1c1a17"/>
<circle cx="1004.60" cy="1301.30" r="3.00" stroke="#28251f" stroke-width="0.72" fill="#1c1a17"/>
<circle cx="1127.70" cy="1301.30" r="3.00" stroke="#28251f" stroke-width="0.72" fill="#1c1a17"/>
<line x1="984.00" y1="1255.20" x2="1150.00" y2="1255.20" stroke="#8d8a7e" stroke-width="2.16" stroke-dasharray="16 3 4 3"/>
<line x1="1042.50" y1="1195.00" x2="1042.50" y2="1311.00" stroke="#28251f" stroke-width="1.08" stroke-dasharray="12 3 3 3"/>
<line x1="1097.30" y1="1195.00" x2="1097.30" y2="1311.00" stroke="#28251f" stroke-width="1.08" stroke-dasharray="12 3 3 3"/>
<circle cx="1042.50" cy="1255.20" r="27.00" stroke="#4a463c" stroke-width="5.04" fill="none" stroke-dasharray="2.5 1.2"/>
<circle cx="1042.50" cy="1255.20" r="29.90" stroke="#28251f" stroke-width="1.56" fill="none"/>
<circle cx="1042.50" cy="1255.20" r="24.20" stroke="#28251f" stroke-width="1.20" fill="none"/>
<circle cx="1042.50" cy="1255.20" r="21.80" stroke="#28251f" stroke-width="1.08" fill="none"/>
<circle cx="1042.50" cy="1255.20" r="8.80" stroke="#28251f" stroke-width="2.88" fill="none"/>
<circle cx="1042.50" cy="1255.20" r="5.50" stroke="#28251f" stroke-width="1.08" fill="none"/>
<circle cx="1042.50" cy="1237.70" r="1.60" stroke="#28251f" stroke-width="0.60" fill="#1c1a17"/>
<circle cx="1025.00" cy="1255.20" r="1.60" stroke="#28251f" stroke-width="0.60" fill="#1c1a17"/>
<circle cx="1060.00" cy="1255.20" r="1.60" stroke="#28251f" stroke-width="0.60" fill="#1c1a17"/>
<circle cx="1042.50" cy="1272.70" r="1.60" stroke="#28251f" stroke-width="0.60" fill="#1c1a17"/>
<circle cx="1097.30" cy="1255.20" r="25.50" stroke="#28251f" stroke-width="1.44" fill="none"/>
<circle cx="1097.30" cy="1255.20" r="8.80" stroke="#28251f" stroke-width="2.88" fill="none"/>
<circle cx="1097.30" cy="1255.20" r="5.20" stroke="#28251f" stroke-width="1.08" fill="none"/>
<circle cx="1097.30" cy="1233.20" r="2.40" stroke="#28251f" stroke-width="0.72" fill="#1c1a17"/>
<circle cx="1075.30" cy="1255.20" r="2.40" stroke="#28251f" stroke-width="0.72" fill="#1c1a17"/>
<circle cx="1119.30" cy="1255.20" r="2.40" stroke="#28251f" stroke-width="0.72" fill="#1c1a17"/>
<circle cx="1097.30" cy="1277.20" r="2.40" stroke="#28251f" stroke-width="0.72" fill="#1c1a17"/>
<line x1="966.70" y1="1207.70" x2="966.70" y2="1309.70" stroke="#28251f" stroke-width="1.20"/>
<line x1="966.70" y1="1207.70" x2="1000.00" y2="1207.70" stroke="#28251f" stroke-width="1.20"/>
<line x1="966.70" y1="1301.20" x2="1001.00" y2="1301.20" stroke="#28251f" stroke-width="2.04"/>
<line x1="966.70" y1="1309.70" x2="987.70" y2="1309.70" stroke="#28251f" stroke-width="1.20"/>
<text transform="translate(967.40,1255.00) rotate(-90) scale(0.645,1)" font-family="&quot;Liberation Sans&quot;,sans-serif" font-size="16" font-weight="normal" fill="#28251f" text-anchor="middle">170</text>
<text transform="translate(966.60,1305.60) rotate(-90) scale(0.7,1)" font-family="&quot;Liberation Sans&quot;,sans-serif" font-size="12" font-weight="normal" fill="#28251f" text-anchor="middle">15</text>
<line x1="1004.00" y1="1337.70" x2="1145.20" y2="1337.70" stroke="#28251f" stroke-width="1.20"/>
<line x1="1004.60" y1="1304.00" x2="1004.60" y2="1339.00" stroke="#28251f" stroke-width="1.20"/>
<line x1="1127.70" y1="1304.00" x2="1127.70" y2="1339.00" stroke="#28251f" stroke-width="1.44"/>
<line x1="1145.20" y1="1309.70" x2="1145.20" y2="1339.00" stroke="#28251f" stroke-width="1.20"/>
<text transform="translate(1065.80,1337.30) scale(0.645,1)" font-family="&quot;Liberation Sans&quot;,sans-serif" font-size="16" font-weight="normal" fill="#28251f" text-anchor="middle">225</text>
<text transform="translate(1135.80,1337.30) scale(0.645,1)" font-family="&quot;Liberation Sans&quot;,sans-serif" font-size="16" font-weight="normal" fill="#28251f" text-anchor="middle">30</text>
<circle cx="893.70" cy="1326.00" r="16.60" stroke="#28251f" stroke-width="1.56" fill="none"/>
<rect x="888.00" y="1309.30" width="11.00" height="5.60" rx="0" stroke="#28251f" stroke-width="1.32" fill="#f0f6ee"/>
<line x1="874.00" y1="1326.00" x2="913.00" y2="1326.00" stroke="#28251f" stroke-width="0.96"/>
<line x1="893.70" y1="1311.00" x2="893.70" y2="1346.00" stroke="#28251f" stroke-width="0.96"/>
<text transform="translate(916.50,1295.10) scale(0.6,1)" font-family="&quot;Liberation Sans&quot;,sans-serif" font-size="15" font-weight="normal" fill="#28251f" text-anchor="middle">10N9</text>
<line x1="885.00" y1="1296.00" x2="927.30" y2="1296.00" stroke="#28251f" stroke-width="1.20"/>
<line x1="888.00" y1="1296.00" x2="888.00" y2="1309.00" stroke="#28251f" stroke-width="1.08"/>
<line x1="899.00" y1="1296.00" x2="899.00" y2="1309.00" stroke="#28251f" stroke-width="1.08"/>
<line x1="894.00" y1="1307.60" x2="926.00" y2="1307.60" stroke="#28251f" stroke-width="1.20"/>
<line x1="899.00" y1="1315.00" x2="926.00" y2="1315.00" stroke="#28251f" stroke-width="1.20"/>
<line x1="923.50" y1="1303.00" x2="923.50" y2="1320.00" stroke="#28251f" stroke-width="2.16"/>
<text transform="translate(921.60,1311.30) rotate(-90) scale(0.8,1)" font-family="&quot;Liberation Sans&quot;,sans-serif" font-size="11" font-weight="normal" fill="#28251f" text-anchor="middle">5</text>
<line x1="877.20" y1="1326.00" x2="877.20" y2="1363.00" stroke="#8d8a7e" stroke-width="2.16"/>
<line x1="910.40" y1="1326.00" x2="910.40" y2="1363.00" stroke="#28251f" stroke-width="1.20"/>
<line x1="876.80" y1="1362.00" x2="910.40" y2="1362.00" stroke="#28251f" stroke-width="1.20"/>
<text transform="translate(894.40,1360.90) scale(0.72,1)" font-family="&quot;Liberation Sans&quot;,sans-serif" font-size="15" font-weight="normal" fill="#28251f" text-anchor="middle">ø30h6</text>
<text transform="translate(909.20,1395.00) scale(0.8,1)" font-family="&quot;Liberation Sans&quot;,&quot;Noto Sans CJK SC&quot;,sans-serif" font-size="19" font-weight="900" fill="#1f1c18" text-anchor="middle">输入、输出轴</text>
</g>
</svg>
<div class="ttl" style="top:552px">技术参数</div>
<div class="hdr" style="top:586.2px;height:27.1px"><span style="left:0;width:298px">项 目</span><span style="left:299.5px;width:300px">符 号</span><span style="left:601px;width:298.5px">单 位</span><span style="left:901px;width:299px">数 值</span></div>
<div class="row" style="top:613.3px;height:26.0px;line-height:26.0px"><span class="c1">出力轴容许径向负荷</span><span class="c2">P1</span><span class="c3">kgf</span><span class="c4">360</span></div>
<div class="row sh" style="top:639.3px;height:21.7px;line-height:21.7px"><span class="c1">出力轴容许轴向负荷</span><span class="c2">P2</span><span class="c3">kgf</span><span class="c4">250</span></div>
<div class="row" style="top:661.0px;height:32.3px;line-height:32.3px"><span class="c1">出力轴容许扭力</span><span class="c2">Ts</span><span class="c3">kgf−m</span><span class="c4"><b>参考表</b></span></div>
<div class="row sh" style="top:693.3px;height:22.4px;line-height:22.4px"><span class="c1">出力轴旋转刚性</span><span class="c2">K1</span><span class="c3">kgf−m/rad</span><span class="c4">1.85 × 10<sup>3</sup></span></div>
<div class="row" style="top:715.7px;height:25.3px;line-height:25.3px"><span class="c1">入力轴容许轴向负荷</span><span class="c2">P4</span><span class="c3">kgf</span><span class="c4">360</span></div>
<div class="row sh" style="top:741.0px;height:21.7px;line-height:21.7px"><span class="c1">入力轴容许径向负荷</span><span class="c2">P5</span><span class="c3">kgf</span><span class="c4">250</span></div>
<div class="row" style="top:762.7px;height:25.0px;line-height:25.0px"><span class="c1">入力轴容许扭力</span><span class="c2">P6</span><span class="c3">kgf−m</span><span class="c4">25</span></div>
<div class="row sh" style="top:787.7px;height:22.3px;line-height:22.3px"><span class="c1">入力轴的旋转刚性</span><span class="c2">K2</span><span class="c3">kgf−m/rad</span><span class="c4">1.85 × 10<sup>3</sup></span></div>
<div class="row" style="top:810.0px;height:25.0px;line-height:25.0px"><span class="c1"><i>1DWELL</i> 的分割精度</span><span class="c2"></span><span class="c3">sec.</span><span class="c4">± 60</span></div>
<div class="row sh" style="top:835.0px;height:22.3px;line-height:22.3px"><span class="c1"><i>2DWELL</i> 的分割精度</span><span class="c2"></span><span class="c3">sec.</span><span class="c4">± 120</span></div>
<div class="row" style="top:857.3px;height:24.4px;line-height:24.4px"><span class="c1">重复定位精度</span><span class="c2"></span><span class="c3">sec.</span><span class="c4">60</span></div>
<div class="row sh" style="top:881.7px;height:23.3px;line-height:23.3px"><span class="c1">重量</span><span class="c2"></span><span class="c3">kg</span><span class="c4">20</span></div>
<div class="ttl" style="top:1488px">技术参数</div>
<div class="hdr" style="top:1521.2px;height:27.1px"><span style="left:0;width:298px">项 目</span><span style="left:299.5px;width:300px">符 号</span><span style="left:601px;width:298.5px">单 位</span><span style="left:901px;width:299px">数 值</span></div>
<div class="row" style="top:1548.3px;height:26.0px;line-height:26.0px"><span class="c1">出力轴容许径向负荷</span><span class="c2">P1</span><span class="c3">kgf</span><span class="c4">480</span></div>
<div class="row sh" style="top:1574.3px;height:21.7px;line-height:21.7px"><span class="c1">出力轴容许轴向负荷</span><span class="c2">P2</span><span class="c3">kgf</span><span class="c4">400</span></div>
<div class="row" style="top:1596.0px;height:32.3px;line-height:32.3px"><span class="c1">出力轴容许扭力</span><span class="c2">Ts</span><span class="c3">kgf−m</span><span class="c4"><b>参考表</b></span></div>
<div class="row sh" style="top:1628.3px;height:22.4px;line-height:22.4px"><span class="c1">出力轴旋转刚性</span><span class="c2">K1</span><span class="c3">kgf−m/rad</span><span class="c4">3.26 × 10<sup>3</sup></span></div>
<div class="row" style="top:1650.7px;height:25.3px;line-height:25.3px"><span class="c1">入力轴容许轴向负荷</span><span class="c2">P4</span><span class="c3">kgf</span><span class="c4">480</span></div>
<div class="row sh" style="top:1676.0px;height:21.7px;line-height:21.7px"><span class="c1">入力轴容许径向负荷</span><span class="c2">P5</span><span class="c3">kgf</span><span class="c4">400</span></div>
<div class="row" style="top:1697.7px;height:25.0px;line-height:25.0px"><span class="c1">入力轴容许扭力</span><span class="c2">P6</span><span class="c3">kgf−m</span><span class="c4">40</span></div>
<div class="row sh" style="top:1722.7px;height:22.3px;line-height:22.3px"><span class="c1">入力轴的旋转刚性</span><span class="c2">K2</span><span class="c3">kgf−m/rad</span><span class="c4">3.26 × 10<sup>3</sup></span></div>
<div class="row" style="top:1745.0px;height:25.0px;line-height:25.0px"><span class="c1"><i>1DWELL</i> 的分割精度</span><span class="c2"></span><span class="c3">sec.</span><span class="c4">± 60</span></div>
<div class="row sh" style="top:1770.0px;height:22.3px;line-height:22.3px"><span class="c1"><i>2DWELL</i> 的分割精度</span><span class="c2"></span><span class="c3">sec.</span><span class="c4">± 120</span></div>
<div class="row" style="top:1792.3px;height:24.4px;line-height:24.4px"><span class="c1">重复定位精度</span><span class="c2"></span><span class="c3">sec.</span><span class="c4">60</span></div>
<div class="row sh" style="top:1816.7px;height:23.3px;line-height:23.3px"><span class="c1">重量</span><span class="c2"></span><span class="c3">kg</span><span class="c4">38</span></div>
</body></html>
